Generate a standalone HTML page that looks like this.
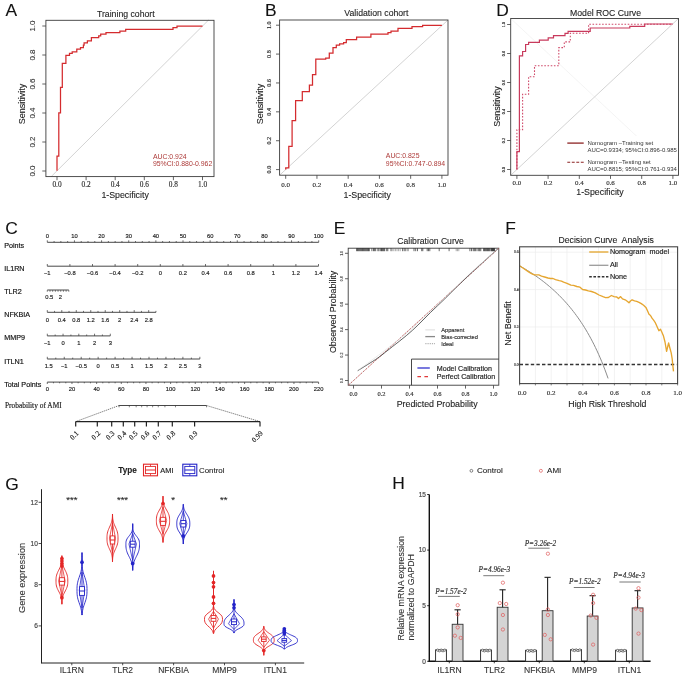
<!DOCTYPE html>
<html><head><meta charset="utf-8"><title>Figure</title>
<style>html,body{margin:0;padding:0;background:#fff;}svg{display:block;filter:blur(0.3px);}</style>
</head><body>
<svg width="685" height="679" viewBox="0 0 685 679">
<rect width="685" height="679" fill="#fff"/>
<text x="5.6" y="16.3" font-size="17.4" font-family="'Liberation Sans', sans-serif" text-anchor="start" fill="#111" stroke="#111" stroke-width="0.1">A</text>
<text x="265" y="16.2" font-size="17.4" font-family="'Liberation Sans', sans-serif" text-anchor="start" fill="#111" stroke="#111" stroke-width="0.1">B</text>
<text x="496.2" y="16.2" font-size="17.4" font-family="'Liberation Sans', sans-serif" text-anchor="start" fill="#111" stroke="#111" stroke-width="0.1">D</text>
<text x="5.2" y="234.2" font-size="17.4" font-family="'Liberation Sans', sans-serif" text-anchor="start" fill="#111" stroke="#111" stroke-width="0.1">C</text>
<text x="333.8" y="233.9" font-size="17.4" font-family="'Liberation Sans', sans-serif" text-anchor="start" fill="#111" stroke="#111" stroke-width="0.1">E</text>
<text x="505.3" y="233.6" font-size="17.4" font-family="'Liberation Sans', sans-serif" text-anchor="start" fill="#111" stroke="#111" stroke-width="0.1">F</text>
<text x="5.2" y="490" font-size="17.4" font-family="'Liberation Sans', sans-serif" text-anchor="start" fill="#111" stroke="#111" stroke-width="0.1">G</text>
<text x="392.2" y="488.7" font-size="17.4" font-family="'Liberation Sans', sans-serif" text-anchor="start" fill="#111" stroke="#111" stroke-width="0.1">H</text>
<line x1="51.2" y1="176.6" x2="208.6" y2="20" stroke="#c8c8c8" stroke-width="0.8"/>
<rect x="45.9" y="20.3" width="168.1" height="156.3" stroke="#3c3c3c" stroke-width="0.9" fill="none"/>
<line x1="57" y1="176.6" x2="57" y2="180.2" stroke="#3c3c3c" stroke-width="0.8"/>
<text x="57" y="187.08" font-size="7.3" font-family="'Liberation Serif', serif" text-anchor="middle" fill="#333" stroke="#333" stroke-width="0.16">0.0</text>
<line x1="45.9" y1="171" x2="42.3" y2="171" stroke="#3c3c3c" stroke-width="0.8"/>
<text x="34.92" y="171" font-size="8.0" font-family="'Liberation Sans', sans-serif" text-anchor="middle" fill="#333" stroke="#333" stroke-width="0.1" transform="rotate(-90 34.92 171)">0.0</text>
<line x1="86.1" y1="176.6" x2="86.1" y2="180.2" stroke="#3c3c3c" stroke-width="0.8"/>
<text x="86.1" y="187.08" font-size="7.3" font-family="'Liberation Serif', serif" text-anchor="middle" fill="#333" stroke="#333" stroke-width="0.16">0.2</text>
<line x1="45.9" y1="142" x2="42.3" y2="142" stroke="#3c3c3c" stroke-width="0.8"/>
<text x="34.92" y="142" font-size="8.0" font-family="'Liberation Sans', sans-serif" text-anchor="middle" fill="#333" stroke="#333" stroke-width="0.1" transform="rotate(-90 34.92 142)">0.2</text>
<line x1="115.2" y1="176.6" x2="115.2" y2="180.2" stroke="#3c3c3c" stroke-width="0.8"/>
<text x="115.2" y="187.08" font-size="7.3" font-family="'Liberation Serif', serif" text-anchor="middle" fill="#333" stroke="#333" stroke-width="0.16">0.4</text>
<line x1="45.9" y1="113" x2="42.3" y2="113" stroke="#3c3c3c" stroke-width="0.8"/>
<text x="34.92" y="113" font-size="8.0" font-family="'Liberation Sans', sans-serif" text-anchor="middle" fill="#333" stroke="#333" stroke-width="0.1" transform="rotate(-90 34.92 113)">0.4</text>
<line x1="144.3" y1="176.6" x2="144.3" y2="180.2" stroke="#3c3c3c" stroke-width="0.8"/>
<text x="144.3" y="187.08" font-size="7.3" font-family="'Liberation Serif', serif" text-anchor="middle" fill="#333" stroke="#333" stroke-width="0.16">0.6</text>
<line x1="45.9" y1="84" x2="42.3" y2="84" stroke="#3c3c3c" stroke-width="0.8"/>
<text x="34.92" y="84" font-size="8.0" font-family="'Liberation Sans', sans-serif" text-anchor="middle" fill="#333" stroke="#333" stroke-width="0.1" transform="rotate(-90 34.92 84)">0.6</text>
<line x1="173.4" y1="176.6" x2="173.4" y2="180.2" stroke="#3c3c3c" stroke-width="0.8"/>
<text x="173.4" y="187.08" font-size="7.3" font-family="'Liberation Serif', serif" text-anchor="middle" fill="#333" stroke="#333" stroke-width="0.16">0.8</text>
<line x1="45.9" y1="55" x2="42.3" y2="55" stroke="#3c3c3c" stroke-width="0.8"/>
<text x="34.92" y="55" font-size="8.0" font-family="'Liberation Sans', sans-serif" text-anchor="middle" fill="#333" stroke="#333" stroke-width="0.1" transform="rotate(-90 34.92 55)">0.8</text>
<line x1="202.5" y1="176.6" x2="202.5" y2="180.2" stroke="#3c3c3c" stroke-width="0.8"/>
<text x="202.5" y="187.08" font-size="7.3" font-family="'Liberation Serif', serif" text-anchor="middle" fill="#333" stroke="#333" stroke-width="0.16">1.0</text>
<line x1="45.9" y1="26" x2="42.3" y2="26" stroke="#3c3c3c" stroke-width="0.8"/>
<text x="34.92" y="26" font-size="8.0" font-family="'Liberation Sans', sans-serif" text-anchor="middle" fill="#333" stroke="#333" stroke-width="0.1" transform="rotate(-90 34.92 26)">1.0</text>
<text x="125.8" y="16.64" font-size="8.7" font-family="'Liberation Sans', sans-serif" text-anchor="middle" fill="#222" stroke="#222" stroke-width="0.1">Training cohort</text>
<text x="25.32" y="104" font-size="9" font-family="'Liberation Sans', sans-serif" text-anchor="middle" fill="#222" stroke="#222" stroke-width="0.1" transform="rotate(-90 25.32 104)">Sensitivity</text>
<text x="125.1" y="197.59" font-size="8.8" font-family="'Liberation Sans', sans-serif" text-anchor="middle" fill="#222" stroke="#222" stroke-width="0.1">1-Specificity</text>
<path d="M57,170.8 V156.2 H58.8 V112.9 H60.5 V87.3 H62.3 V63.3 H65.9 V55.4 H69.5 V53.4 H72.2 V51.9 H76.8 V49.2 H80.5 V47.5 H83.4 V45.2 H84.1 V42.8 H87.4 V40.8 H91.4 V37.5 H98.7 V35.9 H100.7 V34.2 H106 V32.5 H119.9 V31 H125.7 V29.4 H173 V27.5 H177 V26 H202.5" stroke="#d42b2e" stroke-width="1.25" fill="none"/>
<text x="152.9" y="158.7" font-size="6.9" font-family="'Liberation Sans', sans-serif" text-anchor="start" fill="#ad3a38">AUC:0.924</text>
<text x="152.9" y="165.7" font-size="6.9" font-family="'Liberation Sans', sans-serif" text-anchor="start" fill="#ad3a38">95%CI:0.880-0.962</text>
<line x1="279.6" y1="175.2" x2="448" y2="20" stroke="#c8c8c8" stroke-width="0.8"/>
<rect x="279.6" y="20" width="168.4" height="155.2" stroke="#3c3c3c" stroke-width="0.9" fill="none"/>
<line x1="285.7" y1="175.2" x2="285.7" y2="178.8" stroke="#3c3c3c" stroke-width="0.8"/>
<text x="285.7" y="186.68" font-size="7.0" font-family="'Liberation Serif', serif" text-anchor="middle" fill="#333" stroke="#333" stroke-width="0.16">0.0</text>
<line x1="279.6" y1="169.6" x2="276" y2="169.6" stroke="#3c3c3c" stroke-width="0.8"/>
<text x="271.01" y="169.6" font-size="6.2" font-family="'Liberation Serif', serif" text-anchor="middle" fill="#333" stroke="#333" stroke-width="0.16" transform="rotate(-90 271.01 169.6)">0.0</text>
<line x1="316.94" y1="175.2" x2="316.94" y2="178.8" stroke="#3c3c3c" stroke-width="0.8"/>
<text x="316.94" y="186.68" font-size="7.0" font-family="'Liberation Serif', serif" text-anchor="middle" fill="#333" stroke="#333" stroke-width="0.16">0.2</text>
<line x1="279.6" y1="140.72" x2="276" y2="140.72" stroke="#3c3c3c" stroke-width="0.8"/>
<text x="271.01" y="140.72" font-size="6.2" font-family="'Liberation Serif', serif" text-anchor="middle" fill="#333" stroke="#333" stroke-width="0.16" transform="rotate(-90 271.01 140.72)">0.2</text>
<line x1="348.18" y1="175.2" x2="348.18" y2="178.8" stroke="#3c3c3c" stroke-width="0.8"/>
<text x="348.18" y="186.68" font-size="7.0" font-family="'Liberation Serif', serif" text-anchor="middle" fill="#333" stroke="#333" stroke-width="0.16">0.4</text>
<line x1="279.6" y1="111.84" x2="276" y2="111.84" stroke="#3c3c3c" stroke-width="0.8"/>
<text x="271.01" y="111.84" font-size="6.2" font-family="'Liberation Serif', serif" text-anchor="middle" fill="#333" stroke="#333" stroke-width="0.16" transform="rotate(-90 271.01 111.84)">0.4</text>
<line x1="379.42" y1="175.2" x2="379.42" y2="178.8" stroke="#3c3c3c" stroke-width="0.8"/>
<text x="379.42" y="186.68" font-size="7.0" font-family="'Liberation Serif', serif" text-anchor="middle" fill="#333" stroke="#333" stroke-width="0.16">0.6</text>
<line x1="279.6" y1="82.96" x2="276" y2="82.96" stroke="#3c3c3c" stroke-width="0.8"/>
<text x="271.01" y="82.96" font-size="6.2" font-family="'Liberation Serif', serif" text-anchor="middle" fill="#333" stroke="#333" stroke-width="0.16" transform="rotate(-90 271.01 82.96)">0.6</text>
<line x1="410.66" y1="175.2" x2="410.66" y2="178.8" stroke="#3c3c3c" stroke-width="0.8"/>
<text x="410.66" y="186.68" font-size="7.0" font-family="'Liberation Serif', serif" text-anchor="middle" fill="#333" stroke="#333" stroke-width="0.16">0.8</text>
<line x1="279.6" y1="54.08" x2="276" y2="54.08" stroke="#3c3c3c" stroke-width="0.8"/>
<text x="271.01" y="54.08" font-size="6.2" font-family="'Liberation Serif', serif" text-anchor="middle" fill="#333" stroke="#333" stroke-width="0.16" transform="rotate(-90 271.01 54.08)">0.8</text>
<line x1="441.9" y1="175.2" x2="441.9" y2="178.8" stroke="#3c3c3c" stroke-width="0.8"/>
<text x="441.9" y="186.68" font-size="7.0" font-family="'Liberation Serif', serif" text-anchor="middle" fill="#333" stroke="#333" stroke-width="0.16">1.0</text>
<line x1="279.6" y1="25.2" x2="276" y2="25.2" stroke="#3c3c3c" stroke-width="0.8"/>
<text x="271.01" y="25.2" font-size="6.2" font-family="'Liberation Serif', serif" text-anchor="middle" fill="#333" stroke="#333" stroke-width="0.16" transform="rotate(-90 271.01 25.2)">1.0</text>
<text x="376.4" y="15.94" font-size="8.7" font-family="'Liberation Sans', sans-serif" text-anchor="middle" fill="#222" stroke="#222" stroke-width="0.1">Validation cohort</text>
<text x="262.82" y="104" font-size="9" font-family="'Liberation Sans', sans-serif" text-anchor="middle" fill="#222" stroke="#222" stroke-width="0.1" transform="rotate(-90 262.82 104)">Sensitivity</text>
<text x="367.2" y="197.59" font-size="8.8" font-family="'Liberation Sans', sans-serif" text-anchor="middle" fill="#222" stroke="#222" stroke-width="0.1">1-Specificity</text>
<path d="M285.7,169.6 V167.8 H288.8 V146.4 H292.1 V120.5 H295.6 V100.6 H302.3 V91.6 H309.4 V85 H312.5 V74.6 H315.8 V59.1 H325.7 V58.2 H329.3 V53.1 H333 V47.6 H336.3 V45.2 H339.6 V43.9 H343.6 V42.5 H346.3 V39.6 H356.6 V37 H370.9 V34.2 H388 V32.5 H391 V31.2 H398 V28.4 H412 V26.6 H422.6 V25.4 H441.9" stroke="#d42b2e" stroke-width="1.25" fill="none"/>
<text x="385.8" y="158.4" font-size="6.9" font-family="'Liberation Sans', sans-serif" text-anchor="start" fill="#ad3a38">AUC:0.825</text>
<text x="385.8" y="165.9" font-size="6.9" font-family="'Liberation Sans', sans-serif" text-anchor="start" fill="#ad3a38">95%CI:0.747-0.894</text>
<line x1="510.7" y1="18.5" x2="678.5" y2="175.3" stroke="#f1f1f1" stroke-width="0.8"/>
<rect x="562" y="136" width="116" height="39" stroke="none" stroke-width="0" fill="#fff"/>
<line x1="510.7" y1="175.3" x2="678.5" y2="18.5" stroke="#c8c8c8" stroke-width="0.8"/>
<rect x="510.7" y="18.5" width="167.8" height="156.8" stroke="#3c3c3c" stroke-width="0.9" fill="none"/>
<line x1="516.9" y1="175.3" x2="516.9" y2="178.9" stroke="#3c3c3c" stroke-width="0.8"/>
<text x="516.9" y="185.25" font-size="6.9" font-family="'Liberation Serif', serif" text-anchor="middle" fill="#333" stroke="#333" stroke-width="0.16">0.0</text>
<line x1="510.7" y1="169.5" x2="507.1" y2="169.5" stroke="#3c3c3c" stroke-width="0.8"/>
<text x="504.63" y="169.5" font-size="4.2" font-family="'Liberation Serif', serif" text-anchor="middle" fill="#333" stroke="#333" stroke-width="0.16" transform="rotate(-90 504.63 169.5)">0.0</text>
<line x1="548.1" y1="175.3" x2="548.1" y2="178.9" stroke="#3c3c3c" stroke-width="0.8"/>
<text x="548.1" y="185.25" font-size="6.9" font-family="'Liberation Serif', serif" text-anchor="middle" fill="#333" stroke="#333" stroke-width="0.16">0.2</text>
<line x1="510.7" y1="140.5" x2="507.1" y2="140.5" stroke="#3c3c3c" stroke-width="0.8"/>
<text x="504.63" y="140.5" font-size="4.2" font-family="'Liberation Serif', serif" text-anchor="middle" fill="#333" stroke="#333" stroke-width="0.16" transform="rotate(-90 504.63 140.5)">0.2</text>
<line x1="579.3" y1="175.3" x2="579.3" y2="178.9" stroke="#3c3c3c" stroke-width="0.8"/>
<text x="579.3" y="185.25" font-size="6.9" font-family="'Liberation Serif', serif" text-anchor="middle" fill="#333" stroke="#333" stroke-width="0.16">0.4</text>
<line x1="510.7" y1="111.5" x2="507.1" y2="111.5" stroke="#3c3c3c" stroke-width="0.8"/>
<text x="504.63" y="111.5" font-size="4.2" font-family="'Liberation Serif', serif" text-anchor="middle" fill="#333" stroke="#333" stroke-width="0.16" transform="rotate(-90 504.63 111.5)">0.4</text>
<line x1="610.5" y1="175.3" x2="610.5" y2="178.9" stroke="#3c3c3c" stroke-width="0.8"/>
<text x="610.5" y="185.25" font-size="6.9" font-family="'Liberation Serif', serif" text-anchor="middle" fill="#333" stroke="#333" stroke-width="0.16">0.6</text>
<line x1="510.7" y1="82.5" x2="507.1" y2="82.5" stroke="#3c3c3c" stroke-width="0.8"/>
<text x="504.63" y="82.5" font-size="4.2" font-family="'Liberation Serif', serif" text-anchor="middle" fill="#333" stroke="#333" stroke-width="0.16" transform="rotate(-90 504.63 82.5)">0.6</text>
<line x1="641.7" y1="175.3" x2="641.7" y2="178.9" stroke="#3c3c3c" stroke-width="0.8"/>
<text x="641.7" y="185.25" font-size="6.9" font-family="'Liberation Serif', serif" text-anchor="middle" fill="#333" stroke="#333" stroke-width="0.16">0.8</text>
<line x1="510.7" y1="53.5" x2="507.1" y2="53.5" stroke="#3c3c3c" stroke-width="0.8"/>
<text x="504.63" y="53.5" font-size="4.2" font-family="'Liberation Serif', serif" text-anchor="middle" fill="#333" stroke="#333" stroke-width="0.16" transform="rotate(-90 504.63 53.5)">0.8</text>
<line x1="672.9" y1="175.3" x2="672.9" y2="178.9" stroke="#3c3c3c" stroke-width="0.8"/>
<text x="672.9" y="185.25" font-size="6.9" font-family="'Liberation Serif', serif" text-anchor="middle" fill="#333" stroke="#333" stroke-width="0.16">1.0</text>
<line x1="510.7" y1="24.5" x2="507.1" y2="24.5" stroke="#3c3c3c" stroke-width="0.8"/>
<text x="504.63" y="24.5" font-size="4.2" font-family="'Liberation Serif', serif" text-anchor="middle" fill="#333" stroke="#333" stroke-width="0.16" transform="rotate(-90 504.63 24.5)">1.0</text>
<text x="605.5" y="15.94" font-size="8.7" font-family="'Liberation Sans', sans-serif" text-anchor="middle" fill="#222" stroke="#222" stroke-width="0.1">Model ROC Curve</text>
<text x="499.52" y="106.6" font-size="9" font-family="'Liberation Sans', sans-serif" text-anchor="middle" fill="#222" stroke="#222" stroke-width="0.1" transform="rotate(-90 499.52 106.6)">Sensitivity</text>
<text x="600" y="194.89" font-size="8.8" font-family="'Liberation Sans', sans-serif" text-anchor="middle" fill="#222" stroke="#222" stroke-width="0.1">1-Specificity</text>
<path d="M516.9,169.5 V129.7 H522.6 V94.2 H528.6 V76.7 H534.5 V65.7 H558.8 V47.6 H564.3 V41.9 H570.3 V33.3 H588.6 V24.3 H672.7" stroke="#cf4a6a" stroke-width="1.1" fill="none" stroke-dasharray="1.6 1.6"/>
<path d="M516.9,169.5 V151.6 H519.4 V55.8 H522.6 V51.5 H525.6 V44.5 H528.6 V42.3 H539.4 V40.1 H548.2 V37.9 H553.5 V35.6 H565 V33.3 H568.1 V31.3 H590.2 V28 H629.8 V26.3 H644.7 V24 H672.7" stroke="#c83a5c" stroke-width="1.2" fill="none"/>
<line x1="567.3" y1="143.1" x2="583.7" y2="143.1" stroke="#8c2323" stroke-width="1.3"/>
<line x1="567.3" y1="162.3" x2="583.7" y2="162.3" stroke="#8c2323" stroke-width="1.1" stroke-dasharray="2.9 1.6"/>
<text x="587.4" y="145" font-size="6.0" font-family="'Liberation Sans', sans-serif" text-anchor="start" fill="#333">Nomogram &#8211;Training set</text>
<text x="587.4" y="152.2" font-size="6.0" font-family="'Liberation Sans', sans-serif" text-anchor="start" fill="#333">AUC=0.9334; 95%CI:0.896-0.985</text>
<text x="587.4" y="163.5" font-size="6.0" font-family="'Liberation Sans', sans-serif" text-anchor="start" fill="#333">Nomogram &#8211;Testing set</text>
<text x="587.4" y="170.8" font-size="6.0" font-family="'Liberation Sans', sans-serif" text-anchor="start" fill="#333">AUC=0.8815; 95%CI:0.761-0.934</text>
<text x="4.2" y="247.69" font-size="7.2" font-family="'Liberation Sans', sans-serif" text-anchor="start" fill="#111" stroke="#111" stroke-width="0.16">Points</text>
<line x1="47.3" y1="242.3" x2="318.7" y2="242.3" stroke="#333" stroke-width="0.9"/>
<line x1="47.3" y1="242.3" x2="47.3" y2="240.3" stroke="#333" stroke-width="0.7"/>
<line x1="54.08" y1="242.3" x2="54.08" y2="241" stroke="#333" stroke-width="0.7"/>
<line x1="60.87" y1="242.3" x2="60.87" y2="241" stroke="#333" stroke-width="0.7"/>
<line x1="67.66" y1="242.3" x2="67.66" y2="241" stroke="#333" stroke-width="0.7"/>
<line x1="74.44" y1="242.3" x2="74.44" y2="240.3" stroke="#333" stroke-width="0.7"/>
<line x1="81.22" y1="242.3" x2="81.22" y2="241" stroke="#333" stroke-width="0.7"/>
<line x1="88.01" y1="242.3" x2="88.01" y2="241" stroke="#333" stroke-width="0.7"/>
<line x1="94.79" y1="242.3" x2="94.79" y2="241" stroke="#333" stroke-width="0.7"/>
<line x1="101.58" y1="242.3" x2="101.58" y2="240.3" stroke="#333" stroke-width="0.7"/>
<line x1="108.36" y1="242.3" x2="108.36" y2="241" stroke="#333" stroke-width="0.7"/>
<line x1="115.15" y1="242.3" x2="115.15" y2="241" stroke="#333" stroke-width="0.7"/>
<line x1="121.94" y1="242.3" x2="121.94" y2="241" stroke="#333" stroke-width="0.7"/>
<line x1="128.72" y1="242.3" x2="128.72" y2="240.3" stroke="#333" stroke-width="0.7"/>
<line x1="135.5" y1="242.3" x2="135.5" y2="241" stroke="#333" stroke-width="0.7"/>
<line x1="142.29" y1="242.3" x2="142.29" y2="241" stroke="#333" stroke-width="0.7"/>
<line x1="149.07" y1="242.3" x2="149.07" y2="241" stroke="#333" stroke-width="0.7"/>
<line x1="155.86" y1="242.3" x2="155.86" y2="240.3" stroke="#333" stroke-width="0.7"/>
<line x1="162.64" y1="242.3" x2="162.64" y2="241" stroke="#333" stroke-width="0.7"/>
<line x1="169.43" y1="242.3" x2="169.43" y2="241" stroke="#333" stroke-width="0.7"/>
<line x1="176.21" y1="242.3" x2="176.21" y2="241" stroke="#333" stroke-width="0.7"/>
<line x1="183" y1="242.3" x2="183" y2="240.3" stroke="#333" stroke-width="0.7"/>
<line x1="189.78" y1="242.3" x2="189.78" y2="241" stroke="#333" stroke-width="0.7"/>
<line x1="196.57" y1="242.3" x2="196.57" y2="241" stroke="#333" stroke-width="0.7"/>
<line x1="203.36" y1="242.3" x2="203.36" y2="241" stroke="#333" stroke-width="0.7"/>
<line x1="210.14" y1="242.3" x2="210.14" y2="240.3" stroke="#333" stroke-width="0.7"/>
<line x1="216.93" y1="242.3" x2="216.93" y2="241" stroke="#333" stroke-width="0.7"/>
<line x1="223.71" y1="242.3" x2="223.71" y2="241" stroke="#333" stroke-width="0.7"/>
<line x1="230.5" y1="242.3" x2="230.5" y2="241" stroke="#333" stroke-width="0.7"/>
<line x1="237.28" y1="242.3" x2="237.28" y2="240.3" stroke="#333" stroke-width="0.7"/>
<line x1="244.06" y1="242.3" x2="244.06" y2="241" stroke="#333" stroke-width="0.7"/>
<line x1="250.85" y1="242.3" x2="250.85" y2="241" stroke="#333" stroke-width="0.7"/>
<line x1="257.63" y1="242.3" x2="257.63" y2="241" stroke="#333" stroke-width="0.7"/>
<line x1="264.42" y1="242.3" x2="264.42" y2="240.3" stroke="#333" stroke-width="0.7"/>
<line x1="271.2" y1="242.3" x2="271.2" y2="241" stroke="#333" stroke-width="0.7"/>
<line x1="277.99" y1="242.3" x2="277.99" y2="241" stroke="#333" stroke-width="0.7"/>
<line x1="284.77" y1="242.3" x2="284.77" y2="241" stroke="#333" stroke-width="0.7"/>
<line x1="291.56" y1="242.3" x2="291.56" y2="240.3" stroke="#333" stroke-width="0.7"/>
<line x1="298.34" y1="242.3" x2="298.34" y2="241" stroke="#333" stroke-width="0.7"/>
<line x1="305.13" y1="242.3" x2="305.13" y2="241" stroke="#333" stroke-width="0.7"/>
<line x1="311.92" y1="242.3" x2="311.92" y2="241" stroke="#333" stroke-width="0.7"/>
<line x1="318.7" y1="242.3" x2="318.7" y2="240.3" stroke="#333" stroke-width="0.7"/>
<text x="47.3" y="237.79" font-size="5.8" font-family="'Liberation Sans', sans-serif" text-anchor="middle" fill="#222" stroke="#222" stroke-width="0.16">0</text>
<text x="74.44" y="237.79" font-size="5.8" font-family="'Liberation Sans', sans-serif" text-anchor="middle" fill="#222" stroke="#222" stroke-width="0.16">10</text>
<text x="101.58" y="237.79" font-size="5.8" font-family="'Liberation Sans', sans-serif" text-anchor="middle" fill="#222" stroke="#222" stroke-width="0.16">20</text>
<text x="128.72" y="237.79" font-size="5.8" font-family="'Liberation Sans', sans-serif" text-anchor="middle" fill="#222" stroke="#222" stroke-width="0.16">30</text>
<text x="155.86" y="237.79" font-size="5.8" font-family="'Liberation Sans', sans-serif" text-anchor="middle" fill="#222" stroke="#222" stroke-width="0.16">40</text>
<text x="183" y="237.79" font-size="5.8" font-family="'Liberation Sans', sans-serif" text-anchor="middle" fill="#222" stroke="#222" stroke-width="0.16">50</text>
<text x="210.14" y="237.79" font-size="5.8" font-family="'Liberation Sans', sans-serif" text-anchor="middle" fill="#222" stroke="#222" stroke-width="0.16">60</text>
<text x="237.28" y="237.79" font-size="5.8" font-family="'Liberation Sans', sans-serif" text-anchor="middle" fill="#222" stroke="#222" stroke-width="0.16">70</text>
<text x="264.42" y="237.79" font-size="5.8" font-family="'Liberation Sans', sans-serif" text-anchor="middle" fill="#222" stroke="#222" stroke-width="0.16">80</text>
<text x="291.56" y="237.79" font-size="5.8" font-family="'Liberation Sans', sans-serif" text-anchor="middle" fill="#222" stroke="#222" stroke-width="0.16">90</text>
<text x="318.7" y="237.79" font-size="5.8" font-family="'Liberation Sans', sans-serif" text-anchor="middle" fill="#222" stroke="#222" stroke-width="0.16">100</text>
<text x="4.2" y="270.99" font-size="7.2" font-family="'Liberation Sans', sans-serif" text-anchor="start" fill="#111" stroke="#111" stroke-width="0.16">IL1RN</text>
<line x1="47.3" y1="266.2" x2="318.5" y2="266.2" stroke="#333" stroke-width="0.9"/>
<line x1="47.3" y1="266.2" x2="47.3" y2="264" stroke="#333" stroke-width="0.7"/>
<line x1="69.9" y1="266.2" x2="69.9" y2="264" stroke="#333" stroke-width="0.7"/>
<line x1="92.5" y1="266.2" x2="92.5" y2="264" stroke="#333" stroke-width="0.7"/>
<line x1="115.1" y1="266.2" x2="115.1" y2="264" stroke="#333" stroke-width="0.7"/>
<line x1="137.7" y1="266.2" x2="137.7" y2="264" stroke="#333" stroke-width="0.7"/>
<line x1="160.3" y1="266.2" x2="160.3" y2="264" stroke="#333" stroke-width="0.7"/>
<line x1="182.9" y1="266.2" x2="182.9" y2="264" stroke="#333" stroke-width="0.7"/>
<line x1="205.5" y1="266.2" x2="205.5" y2="264" stroke="#333" stroke-width="0.7"/>
<line x1="228.1" y1="266.2" x2="228.1" y2="264" stroke="#333" stroke-width="0.7"/>
<line x1="250.7" y1="266.2" x2="250.7" y2="264" stroke="#333" stroke-width="0.7"/>
<line x1="273.3" y1="266.2" x2="273.3" y2="264" stroke="#333" stroke-width="0.7"/>
<line x1="295.9" y1="266.2" x2="295.9" y2="264" stroke="#333" stroke-width="0.7"/>
<line x1="318.5" y1="266.2" x2="318.5" y2="264" stroke="#333" stroke-width="0.7"/>
<text x="47.3" y="275.39" font-size="5.8" font-family="'Liberation Sans', sans-serif" text-anchor="middle" fill="#222" stroke="#222" stroke-width="0.16">&#8722;1</text>
<text x="69.9" y="275.39" font-size="5.8" font-family="'Liberation Sans', sans-serif" text-anchor="middle" fill="#222" stroke="#222" stroke-width="0.16">&#8722;0.8</text>
<text x="92.5" y="275.39" font-size="5.8" font-family="'Liberation Sans', sans-serif" text-anchor="middle" fill="#222" stroke="#222" stroke-width="0.16">&#8722;0.6</text>
<text x="115.1" y="275.39" font-size="5.8" font-family="'Liberation Sans', sans-serif" text-anchor="middle" fill="#222" stroke="#222" stroke-width="0.16">&#8722;0.4</text>
<text x="137.7" y="275.39" font-size="5.8" font-family="'Liberation Sans', sans-serif" text-anchor="middle" fill="#222" stroke="#222" stroke-width="0.16">&#8722;0.2</text>
<text x="160.3" y="275.39" font-size="5.8" font-family="'Liberation Sans', sans-serif" text-anchor="middle" fill="#222" stroke="#222" stroke-width="0.16">0</text>
<text x="182.9" y="275.39" font-size="5.8" font-family="'Liberation Sans', sans-serif" text-anchor="middle" fill="#222" stroke="#222" stroke-width="0.16">0.2</text>
<text x="205.5" y="275.39" font-size="5.8" font-family="'Liberation Sans', sans-serif" text-anchor="middle" fill="#222" stroke="#222" stroke-width="0.16">0.4</text>
<text x="228.1" y="275.39" font-size="5.8" font-family="'Liberation Sans', sans-serif" text-anchor="middle" fill="#222" stroke="#222" stroke-width="0.16">0.6</text>
<text x="250.7" y="275.39" font-size="5.8" font-family="'Liberation Sans', sans-serif" text-anchor="middle" fill="#222" stroke="#222" stroke-width="0.16">0.8</text>
<text x="273.3" y="275.39" font-size="5.8" font-family="'Liberation Sans', sans-serif" text-anchor="middle" fill="#222" stroke="#222" stroke-width="0.16">1</text>
<text x="295.9" y="275.39" font-size="5.8" font-family="'Liberation Sans', sans-serif" text-anchor="middle" fill="#222" stroke="#222" stroke-width="0.16">1.2</text>
<text x="318.5" y="275.39" font-size="5.8" font-family="'Liberation Sans', sans-serif" text-anchor="middle" fill="#222" stroke="#222" stroke-width="0.16">1.4</text>
<text x="4.2" y="294.19" font-size="7.2" font-family="'Liberation Sans', sans-serif" text-anchor="start" fill="#111" stroke="#111" stroke-width="0.16">TLR2</text>
<line x1="47.3" y1="290" x2="68.8" y2="290" stroke="#333" stroke-width="0.9"/>
<line x1="47.3" y1="290" x2="47.3" y2="291.8" stroke="#333" stroke-width="0.6"/>
<line x1="49.99" y1="290" x2="49.99" y2="291.8" stroke="#333" stroke-width="0.6"/>
<line x1="52.67" y1="290" x2="52.67" y2="291.8" stroke="#333" stroke-width="0.6"/>
<line x1="55.36" y1="290" x2="55.36" y2="291.8" stroke="#333" stroke-width="0.6"/>
<line x1="58.05" y1="290" x2="58.05" y2="291.8" stroke="#333" stroke-width="0.6"/>
<line x1="60.74" y1="290" x2="60.74" y2="291.8" stroke="#333" stroke-width="0.6"/>
<line x1="63.42" y1="290" x2="63.42" y2="291.8" stroke="#333" stroke-width="0.6"/>
<line x1="66.11" y1="290" x2="66.11" y2="291.8" stroke="#333" stroke-width="0.6"/>
<line x1="68.8" y1="290" x2="68.8" y2="291.8" stroke="#333" stroke-width="0.6"/>
<text x="49.2" y="298.69" font-size="5.8" font-family="'Liberation Sans', sans-serif" text-anchor="middle" fill="#222" stroke="#222" stroke-width="0.16">0.5</text>
<text x="60.4" y="298.69" font-size="5.8" font-family="'Liberation Sans', sans-serif" text-anchor="middle" fill="#222" stroke="#222" stroke-width="0.16">2</text>
<text x="4.2" y="316.99" font-size="7.2" font-family="'Liberation Sans', sans-serif" text-anchor="start" fill="#111" stroke="#111" stroke-width="0.16">NFKBIA</text>
<line x1="47.3" y1="312.3" x2="155.94" y2="312.3" stroke="#333" stroke-width="0.9"/>
<line x1="47.3" y1="312.3" x2="47.3" y2="310.1" stroke="#333" stroke-width="0.7"/>
<line x1="54.54" y1="312.3" x2="54.54" y2="310.9" stroke="#333" stroke-width="0.7"/>
<line x1="61.79" y1="312.3" x2="61.79" y2="310.1" stroke="#333" stroke-width="0.7"/>
<line x1="69.03" y1="312.3" x2="69.03" y2="310.9" stroke="#333" stroke-width="0.7"/>
<line x1="76.27" y1="312.3" x2="76.27" y2="310.1" stroke="#333" stroke-width="0.7"/>
<line x1="83.51" y1="312.3" x2="83.51" y2="310.9" stroke="#333" stroke-width="0.7"/>
<line x1="90.76" y1="312.3" x2="90.76" y2="310.1" stroke="#333" stroke-width="0.7"/>
<line x1="98" y1="312.3" x2="98" y2="310.9" stroke="#333" stroke-width="0.7"/>
<line x1="105.24" y1="312.3" x2="105.24" y2="310.1" stroke="#333" stroke-width="0.7"/>
<line x1="112.49" y1="312.3" x2="112.49" y2="310.9" stroke="#333" stroke-width="0.7"/>
<line x1="119.73" y1="312.3" x2="119.73" y2="310.1" stroke="#333" stroke-width="0.7"/>
<line x1="126.97" y1="312.3" x2="126.97" y2="310.9" stroke="#333" stroke-width="0.7"/>
<line x1="134.21" y1="312.3" x2="134.21" y2="310.1" stroke="#333" stroke-width="0.7"/>
<line x1="141.46" y1="312.3" x2="141.46" y2="310.9" stroke="#333" stroke-width="0.7"/>
<line x1="148.7" y1="312.3" x2="148.7" y2="310.1" stroke="#333" stroke-width="0.7"/>
<line x1="155.94" y1="312.3" x2="155.94" y2="310.9" stroke="#333" stroke-width="0.7"/>
<text x="47.3" y="321.69" font-size="5.8" font-family="'Liberation Sans', sans-serif" text-anchor="middle" fill="#222" stroke="#222" stroke-width="0.16">0</text>
<text x="61.79" y="321.69" font-size="5.8" font-family="'Liberation Sans', sans-serif" text-anchor="middle" fill="#222" stroke="#222" stroke-width="0.16">0.4</text>
<text x="76.27" y="321.69" font-size="5.8" font-family="'Liberation Sans', sans-serif" text-anchor="middle" fill="#222" stroke="#222" stroke-width="0.16">0.8</text>
<text x="90.76" y="321.69" font-size="5.8" font-family="'Liberation Sans', sans-serif" text-anchor="middle" fill="#222" stroke="#222" stroke-width="0.16">1.2</text>
<text x="105.24" y="321.69" font-size="5.8" font-family="'Liberation Sans', sans-serif" text-anchor="middle" fill="#222" stroke="#222" stroke-width="0.16">1.6</text>
<text x="119.73" y="321.69" font-size="5.8" font-family="'Liberation Sans', sans-serif" text-anchor="middle" fill="#222" stroke="#222" stroke-width="0.16">2</text>
<text x="134.21" y="321.69" font-size="5.8" font-family="'Liberation Sans', sans-serif" text-anchor="middle" fill="#222" stroke="#222" stroke-width="0.16">2.4</text>
<text x="148.7" y="321.69" font-size="5.8" font-family="'Liberation Sans', sans-serif" text-anchor="middle" fill="#222" stroke="#222" stroke-width="0.16">2.8</text>
<text x="4.2" y="340.29" font-size="7.2" font-family="'Liberation Sans', sans-serif" text-anchor="start" fill="#111" stroke="#111" stroke-width="0.16">MMP9</text>
<line x1="47.3" y1="335.9" x2="110.3" y2="335.9" stroke="#333" stroke-width="0.9"/>
<line x1="47.3" y1="335.9" x2="47.3" y2="333.7" stroke="#333" stroke-width="0.7"/>
<line x1="55.17" y1="335.9" x2="55.17" y2="334.5" stroke="#333" stroke-width="0.7"/>
<line x1="63.05" y1="335.9" x2="63.05" y2="333.7" stroke="#333" stroke-width="0.7"/>
<line x1="70.92" y1="335.9" x2="70.92" y2="334.5" stroke="#333" stroke-width="0.7"/>
<line x1="78.8" y1="335.9" x2="78.8" y2="333.7" stroke="#333" stroke-width="0.7"/>
<line x1="86.67" y1="335.9" x2="86.67" y2="334.5" stroke="#333" stroke-width="0.7"/>
<line x1="94.55" y1="335.9" x2="94.55" y2="333.7" stroke="#333" stroke-width="0.7"/>
<line x1="102.42" y1="335.9" x2="102.42" y2="334.5" stroke="#333" stroke-width="0.7"/>
<line x1="110.3" y1="335.9" x2="110.3" y2="333.7" stroke="#333" stroke-width="0.7"/>
<text x="47.3" y="344.69" font-size="5.8" font-family="'Liberation Sans', sans-serif" text-anchor="middle" fill="#222" stroke="#222" stroke-width="0.16">&#8722;1</text>
<text x="63.05" y="344.69" font-size="5.8" font-family="'Liberation Sans', sans-serif" text-anchor="middle" fill="#222" stroke="#222" stroke-width="0.16">0</text>
<text x="78.8" y="344.69" font-size="5.8" font-family="'Liberation Sans', sans-serif" text-anchor="middle" fill="#222" stroke="#222" stroke-width="0.16">1</text>
<text x="94.55" y="344.69" font-size="5.8" font-family="'Liberation Sans', sans-serif" text-anchor="middle" fill="#222" stroke="#222" stroke-width="0.16">2</text>
<text x="110.3" y="344.69" font-size="5.8" font-family="'Liberation Sans', sans-serif" text-anchor="middle" fill="#222" stroke="#222" stroke-width="0.16">3</text>
<text x="4.2" y="363.89" font-size="7.2" font-family="'Liberation Sans', sans-serif" text-anchor="start" fill="#111" stroke="#111" stroke-width="0.16">ITLN1</text>
<line x1="47.3" y1="359" x2="199.85" y2="359" stroke="#333" stroke-width="0.9"/>
<line x1="47.3" y1="359" x2="47.3" y2="356.8" stroke="#333" stroke-width="0.7"/>
<line x1="55.77" y1="359" x2="55.77" y2="357.6" stroke="#333" stroke-width="0.7"/>
<line x1="64.25" y1="359" x2="64.25" y2="356.8" stroke="#333" stroke-width="0.7"/>
<line x1="72.72" y1="359" x2="72.72" y2="357.6" stroke="#333" stroke-width="0.7"/>
<line x1="81.2" y1="359" x2="81.2" y2="356.8" stroke="#333" stroke-width="0.7"/>
<line x1="89.67" y1="359" x2="89.67" y2="357.6" stroke="#333" stroke-width="0.7"/>
<line x1="98.15" y1="359" x2="98.15" y2="356.8" stroke="#333" stroke-width="0.7"/>
<line x1="106.62" y1="359" x2="106.62" y2="357.6" stroke="#333" stroke-width="0.7"/>
<line x1="115.1" y1="359" x2="115.1" y2="356.8" stroke="#333" stroke-width="0.7"/>
<line x1="123.57" y1="359" x2="123.57" y2="357.6" stroke="#333" stroke-width="0.7"/>
<line x1="132.05" y1="359" x2="132.05" y2="356.8" stroke="#333" stroke-width="0.7"/>
<line x1="140.52" y1="359" x2="140.52" y2="357.6" stroke="#333" stroke-width="0.7"/>
<line x1="149" y1="359" x2="149" y2="356.8" stroke="#333" stroke-width="0.7"/>
<line x1="157.47" y1="359" x2="157.47" y2="357.6" stroke="#333" stroke-width="0.7"/>
<line x1="165.95" y1="359" x2="165.95" y2="356.8" stroke="#333" stroke-width="0.7"/>
<line x1="174.43" y1="359" x2="174.43" y2="357.6" stroke="#333" stroke-width="0.7"/>
<line x1="182.9" y1="359" x2="182.9" y2="356.8" stroke="#333" stroke-width="0.7"/>
<line x1="191.38" y1="359" x2="191.38" y2="357.6" stroke="#333" stroke-width="0.7"/>
<line x1="199.85" y1="359" x2="199.85" y2="356.8" stroke="#333" stroke-width="0.7"/>
<text x="48.8" y="368.29" font-size="5.8" font-family="'Liberation Sans', sans-serif" text-anchor="middle" fill="#222" stroke="#222" stroke-width="0.16">1.5</text>
<text x="64.25" y="368.29" font-size="5.8" font-family="'Liberation Sans', sans-serif" text-anchor="middle" fill="#222" stroke="#222" stroke-width="0.16">&#8722;1</text>
<text x="81.2" y="368.29" font-size="5.8" font-family="'Liberation Sans', sans-serif" text-anchor="middle" fill="#222" stroke="#222" stroke-width="0.16">&#8722;0.5</text>
<text x="98.15" y="368.29" font-size="5.8" font-family="'Liberation Sans', sans-serif" text-anchor="middle" fill="#222" stroke="#222" stroke-width="0.16">0</text>
<text x="115.1" y="368.29" font-size="5.8" font-family="'Liberation Sans', sans-serif" text-anchor="middle" fill="#222" stroke="#222" stroke-width="0.16">0.5</text>
<text x="132.05" y="368.29" font-size="5.8" font-family="'Liberation Sans', sans-serif" text-anchor="middle" fill="#222" stroke="#222" stroke-width="0.16">1</text>
<text x="149" y="368.29" font-size="5.8" font-family="'Liberation Sans', sans-serif" text-anchor="middle" fill="#222" stroke="#222" stroke-width="0.16">1.5</text>
<text x="165.95" y="368.29" font-size="5.8" font-family="'Liberation Sans', sans-serif" text-anchor="middle" fill="#222" stroke="#222" stroke-width="0.16">2</text>
<text x="182.9" y="368.29" font-size="5.8" font-family="'Liberation Sans', sans-serif" text-anchor="middle" fill="#222" stroke="#222" stroke-width="0.16">2.5</text>
<text x="199.85" y="368.29" font-size="5.8" font-family="'Liberation Sans', sans-serif" text-anchor="middle" fill="#222" stroke="#222" stroke-width="0.16">3</text>
<text x="4.2" y="386.69" font-size="7.2" font-family="'Liberation Sans', sans-serif" text-anchor="start" fill="#111" stroke="#111" stroke-width="0.16">Total Points</text>
<line x1="47.3" y1="382.1" x2="318.6" y2="382.1" stroke="#333" stroke-width="0.9"/>
<line x1="47.3" y1="382.1" x2="47.3" y2="384" stroke="#333" stroke-width="0.7"/>
<line x1="53.47" y1="382.1" x2="53.47" y2="383.3" stroke="#333" stroke-width="0.7"/>
<line x1="59.63" y1="382.1" x2="59.63" y2="383.3" stroke="#333" stroke-width="0.7"/>
<line x1="65.8" y1="382.1" x2="65.8" y2="383.3" stroke="#333" stroke-width="0.7"/>
<line x1="71.96" y1="382.1" x2="71.96" y2="384" stroke="#333" stroke-width="0.7"/>
<line x1="78.13" y1="382.1" x2="78.13" y2="383.3" stroke="#333" stroke-width="0.7"/>
<line x1="84.3" y1="382.1" x2="84.3" y2="383.3" stroke="#333" stroke-width="0.7"/>
<line x1="90.46" y1="382.1" x2="90.46" y2="383.3" stroke="#333" stroke-width="0.7"/>
<line x1="96.63" y1="382.1" x2="96.63" y2="384" stroke="#333" stroke-width="0.7"/>
<line x1="102.79" y1="382.1" x2="102.79" y2="383.3" stroke="#333" stroke-width="0.7"/>
<line x1="108.96" y1="382.1" x2="108.96" y2="383.3" stroke="#333" stroke-width="0.7"/>
<line x1="115.12" y1="382.1" x2="115.12" y2="383.3" stroke="#333" stroke-width="0.7"/>
<line x1="121.29" y1="382.1" x2="121.29" y2="384" stroke="#333" stroke-width="0.7"/>
<line x1="127.46" y1="382.1" x2="127.46" y2="383.3" stroke="#333" stroke-width="0.7"/>
<line x1="133.62" y1="382.1" x2="133.62" y2="383.3" stroke="#333" stroke-width="0.7"/>
<line x1="139.79" y1="382.1" x2="139.79" y2="383.3" stroke="#333" stroke-width="0.7"/>
<line x1="145.95" y1="382.1" x2="145.95" y2="384" stroke="#333" stroke-width="0.7"/>
<line x1="152.12" y1="382.1" x2="152.12" y2="383.3" stroke="#333" stroke-width="0.7"/>
<line x1="158.29" y1="382.1" x2="158.29" y2="383.3" stroke="#333" stroke-width="0.7"/>
<line x1="164.45" y1="382.1" x2="164.45" y2="383.3" stroke="#333" stroke-width="0.7"/>
<line x1="170.62" y1="382.1" x2="170.62" y2="384" stroke="#333" stroke-width="0.7"/>
<line x1="176.78" y1="382.1" x2="176.78" y2="383.3" stroke="#333" stroke-width="0.7"/>
<line x1="182.95" y1="382.1" x2="182.95" y2="383.3" stroke="#333" stroke-width="0.7"/>
<line x1="189.12" y1="382.1" x2="189.12" y2="383.3" stroke="#333" stroke-width="0.7"/>
<line x1="195.28" y1="382.1" x2="195.28" y2="384" stroke="#333" stroke-width="0.7"/>
<line x1="201.45" y1="382.1" x2="201.45" y2="383.3" stroke="#333" stroke-width="0.7"/>
<line x1="207.61" y1="382.1" x2="207.61" y2="383.3" stroke="#333" stroke-width="0.7"/>
<line x1="213.78" y1="382.1" x2="213.78" y2="383.3" stroke="#333" stroke-width="0.7"/>
<line x1="219.95" y1="382.1" x2="219.95" y2="384" stroke="#333" stroke-width="0.7"/>
<line x1="226.11" y1="382.1" x2="226.11" y2="383.3" stroke="#333" stroke-width="0.7"/>
<line x1="232.28" y1="382.1" x2="232.28" y2="383.3" stroke="#333" stroke-width="0.7"/>
<line x1="238.44" y1="382.1" x2="238.44" y2="383.3" stroke="#333" stroke-width="0.7"/>
<line x1="244.61" y1="382.1" x2="244.61" y2="384" stroke="#333" stroke-width="0.7"/>
<line x1="250.78" y1="382.1" x2="250.78" y2="383.3" stroke="#333" stroke-width="0.7"/>
<line x1="256.94" y1="382.1" x2="256.94" y2="383.3" stroke="#333" stroke-width="0.7"/>
<line x1="263.11" y1="382.1" x2="263.11" y2="383.3" stroke="#333" stroke-width="0.7"/>
<line x1="269.27" y1="382.1" x2="269.27" y2="384" stroke="#333" stroke-width="0.7"/>
<line x1="275.44" y1="382.1" x2="275.44" y2="383.3" stroke="#333" stroke-width="0.7"/>
<line x1="281.6" y1="382.1" x2="281.6" y2="383.3" stroke="#333" stroke-width="0.7"/>
<line x1="287.77" y1="382.1" x2="287.77" y2="383.3" stroke="#333" stroke-width="0.7"/>
<line x1="293.94" y1="382.1" x2="293.94" y2="384" stroke="#333" stroke-width="0.7"/>
<line x1="300.1" y1="382.1" x2="300.1" y2="383.3" stroke="#333" stroke-width="0.7"/>
<line x1="306.27" y1="382.1" x2="306.27" y2="383.3" stroke="#333" stroke-width="0.7"/>
<line x1="312.43" y1="382.1" x2="312.43" y2="383.3" stroke="#333" stroke-width="0.7"/>
<line x1="318.6" y1="382.1" x2="318.6" y2="384" stroke="#333" stroke-width="0.7"/>
<text x="47.3" y="391.49" font-size="5.8" font-family="'Liberation Sans', sans-serif" text-anchor="middle" fill="#222" stroke="#222" stroke-width="0.16">0</text>
<text x="71.96" y="391.49" font-size="5.8" font-family="'Liberation Sans', sans-serif" text-anchor="middle" fill="#222" stroke="#222" stroke-width="0.16">20</text>
<text x="96.63" y="391.49" font-size="5.8" font-family="'Liberation Sans', sans-serif" text-anchor="middle" fill="#222" stroke="#222" stroke-width="0.16">40</text>
<text x="121.29" y="391.49" font-size="5.8" font-family="'Liberation Sans', sans-serif" text-anchor="middle" fill="#222" stroke="#222" stroke-width="0.16">60</text>
<text x="145.95" y="391.49" font-size="5.8" font-family="'Liberation Sans', sans-serif" text-anchor="middle" fill="#222" stroke="#222" stroke-width="0.16">80</text>
<text x="170.62" y="391.49" font-size="5.8" font-family="'Liberation Sans', sans-serif" text-anchor="middle" fill="#222" stroke="#222" stroke-width="0.16">100</text>
<text x="195.28" y="391.49" font-size="5.8" font-family="'Liberation Sans', sans-serif" text-anchor="middle" fill="#222" stroke="#222" stroke-width="0.16">120</text>
<text x="219.95" y="391.49" font-size="5.8" font-family="'Liberation Sans', sans-serif" text-anchor="middle" fill="#222" stroke="#222" stroke-width="0.16">140</text>
<text x="244.61" y="391.49" font-size="5.8" font-family="'Liberation Sans', sans-serif" text-anchor="middle" fill="#222" stroke="#222" stroke-width="0.16">160</text>
<text x="269.27" y="391.49" font-size="5.8" font-family="'Liberation Sans', sans-serif" text-anchor="middle" fill="#222" stroke="#222" stroke-width="0.16">180</text>
<text x="293.94" y="391.49" font-size="5.8" font-family="'Liberation Sans', sans-serif" text-anchor="middle" fill="#222" stroke="#222" stroke-width="0.16">200</text>
<text x="318.6" y="391.49" font-size="5.8" font-family="'Liberation Sans', sans-serif" text-anchor="middle" fill="#222" stroke="#222" stroke-width="0.16">220</text>
<text x="5" y="408.3" font-size="7.4" font-family="'Liberation Serif', serif" text-anchor="start" fill="#222" stroke="#222" stroke-width="0.16">Probability of AMI</text>
<line x1="119.1" y1="405.5" x2="206.5" y2="405.5" stroke="#333" stroke-width="0.9"/>
<line x1="119.1" y1="405.5" x2="119.1" y2="407.3" stroke="#333" stroke-width="0.6"/>
<line x1="129.34" y1="405.5" x2="129.34" y2="407.3" stroke="#333" stroke-width="0.6"/>
<line x1="136.17" y1="405.5" x2="136.17" y2="407.3" stroke="#333" stroke-width="0.6"/>
<line x1="141.67" y1="405.5" x2="141.67" y2="407.3" stroke="#333" stroke-width="0.6"/>
<line x1="147.08" y1="405.5" x2="147.08" y2="407.3" stroke="#333" stroke-width="0.6"/>
<line x1="152.63" y1="405.5" x2="152.63" y2="407.3" stroke="#333" stroke-width="0.6"/>
<line x1="158.27" y1="405.5" x2="158.27" y2="407.3" stroke="#333" stroke-width="0.6"/>
<line x1="164.91" y1="405.5" x2="164.91" y2="407.3" stroke="#333" stroke-width="0.6"/>
<line x1="175.49" y1="405.5" x2="175.49" y2="407.3" stroke="#333" stroke-width="0.6"/>
<line x1="206.5" y1="405.5" x2="206.5" y2="407.3" stroke="#333" stroke-width="0.6"/>
<line x1="119.1" y1="405.5" x2="75.7" y2="421.6" stroke="#333" stroke-width="0.7" stroke-dasharray="1.2 0.9"/>
<line x1="206.5" y1="405.5" x2="260" y2="421.6" stroke="#333" stroke-width="0.7" stroke-dasharray="1.2 0.9"/>
<line x1="75.7" y1="421.6" x2="260" y2="421.6" stroke="#222" stroke-width="1.4"/>
<line x1="75.7" y1="421.6" x2="75.7" y2="426.6" stroke="#222" stroke-width="1.2"/>
<text x="79.1" y="433.8" font-size="7.2" font-family="'Liberation Serif', serif" text-anchor="end" fill="#222" stroke="#222" stroke-width="0.16" transform="rotate(-45 79.1 433.8)">0.1</text>
<line x1="97.3" y1="421.6" x2="97.3" y2="426.6" stroke="#222" stroke-width="1.2"/>
<text x="100.7" y="433.8" font-size="7.2" font-family="'Liberation Serif', serif" text-anchor="end" fill="#222" stroke="#222" stroke-width="0.16" transform="rotate(-45 100.7 433.8)">0.2</text>
<line x1="111.7" y1="421.6" x2="111.7" y2="426.6" stroke="#222" stroke-width="1.2"/>
<text x="115.1" y="433.8" font-size="7.2" font-family="'Liberation Serif', serif" text-anchor="end" fill="#222" stroke="#222" stroke-width="0.16" transform="rotate(-45 115.1 433.8)">0.3</text>
<line x1="123.3" y1="421.6" x2="123.3" y2="426.6" stroke="#222" stroke-width="1.2"/>
<text x="126.7" y="433.8" font-size="7.2" font-family="'Liberation Serif', serif" text-anchor="end" fill="#222" stroke="#222" stroke-width="0.16" transform="rotate(-45 126.7 433.8)">0.4</text>
<line x1="134.7" y1="421.6" x2="134.7" y2="426.6" stroke="#222" stroke-width="1.2"/>
<text x="138.1" y="433.8" font-size="7.2" font-family="'Liberation Serif', serif" text-anchor="end" fill="#222" stroke="#222" stroke-width="0.16" transform="rotate(-45 138.1 433.8)">0.5</text>
<line x1="146.4" y1="421.6" x2="146.4" y2="426.6" stroke="#222" stroke-width="1.2"/>
<text x="149.8" y="433.8" font-size="7.2" font-family="'Liberation Serif', serif" text-anchor="end" fill="#222" stroke="#222" stroke-width="0.16" transform="rotate(-45 149.8 433.8)">0.6</text>
<line x1="158.3" y1="421.6" x2="158.3" y2="426.6" stroke="#222" stroke-width="1.2"/>
<text x="161.7" y="433.8" font-size="7.2" font-family="'Liberation Serif', serif" text-anchor="end" fill="#222" stroke="#222" stroke-width="0.16" transform="rotate(-45 161.7 433.8)">0.7</text>
<line x1="172.3" y1="421.6" x2="172.3" y2="426.6" stroke="#222" stroke-width="1.2"/>
<text x="175.7" y="433.8" font-size="7.2" font-family="'Liberation Serif', serif" text-anchor="end" fill="#222" stroke="#222" stroke-width="0.16" transform="rotate(-45 175.7 433.8)">0.8</text>
<line x1="194.6" y1="421.6" x2="194.6" y2="426.6" stroke="#222" stroke-width="1.2"/>
<text x="198" y="433.8" font-size="7.2" font-family="'Liberation Serif', serif" text-anchor="end" fill="#222" stroke="#222" stroke-width="0.16" transform="rotate(-45 198 433.8)">0.9</text>
<line x1="260" y1="421.6" x2="260" y2="426.6" stroke="#222" stroke-width="1.2"/>
<text x="263.4" y="433.8" font-size="7.2" font-family="'Liberation Serif', serif" text-anchor="end" fill="#222" stroke="#222" stroke-width="0.16" transform="rotate(-45 263.4 433.8)">0.99</text>
<rect x="348.2" y="248.2" width="150.6" height="137" stroke="#3c3c3c" stroke-width="0.9" fill="none"/>
<line x1="353.5" y1="385.2" x2="353.5" y2="388.6" stroke="#3c3c3c" stroke-width="0.8"/>
<text x="353.5" y="395.51" font-size="6.5" font-family="'Liberation Serif', serif" text-anchor="middle" fill="#333" stroke="#333" stroke-width="0.16">0.0</text>
<line x1="348.2" y1="380.5" x2="345" y2="380.5" stroke="#3c3c3c" stroke-width="0.8"/>
<text x="343.09" y="380.5" font-size="3.8" font-family="'Liberation Serif', serif" text-anchor="middle" fill="#444" stroke="#444" stroke-width="0.16" transform="rotate(-90 343.09 380.5)">0.0</text>
<line x1="381.5" y1="385.2" x2="381.5" y2="388.6" stroke="#3c3c3c" stroke-width="0.8"/>
<text x="381.5" y="395.51" font-size="6.5" font-family="'Liberation Serif', serif" text-anchor="middle" fill="#333" stroke="#333" stroke-width="0.16">0.2</text>
<line x1="348.2" y1="355.06" x2="345" y2="355.06" stroke="#3c3c3c" stroke-width="0.8"/>
<text x="343.09" y="355.06" font-size="3.8" font-family="'Liberation Serif', serif" text-anchor="middle" fill="#444" stroke="#444" stroke-width="0.16" transform="rotate(-90 343.09 355.06)">0.2</text>
<line x1="409.5" y1="385.2" x2="409.5" y2="388.6" stroke="#3c3c3c" stroke-width="0.8"/>
<text x="409.5" y="395.51" font-size="6.5" font-family="'Liberation Serif', serif" text-anchor="middle" fill="#333" stroke="#333" stroke-width="0.16">0.4</text>
<line x1="348.2" y1="329.62" x2="345" y2="329.62" stroke="#3c3c3c" stroke-width="0.8"/>
<text x="343.09" y="329.62" font-size="3.8" font-family="'Liberation Serif', serif" text-anchor="middle" fill="#444" stroke="#444" stroke-width="0.16" transform="rotate(-90 343.09 329.62)">0.4</text>
<line x1="437.5" y1="385.2" x2="437.5" y2="388.6" stroke="#3c3c3c" stroke-width="0.8"/>
<text x="437.5" y="395.51" font-size="6.5" font-family="'Liberation Serif', serif" text-anchor="middle" fill="#333" stroke="#333" stroke-width="0.16">0.6</text>
<line x1="348.2" y1="304.18" x2="345" y2="304.18" stroke="#3c3c3c" stroke-width="0.8"/>
<text x="343.09" y="304.18" font-size="3.8" font-family="'Liberation Serif', serif" text-anchor="middle" fill="#444" stroke="#444" stroke-width="0.16" transform="rotate(-90 343.09 304.18)">0.6</text>
<line x1="465.5" y1="385.2" x2="465.5" y2="388.6" stroke="#3c3c3c" stroke-width="0.8"/>
<text x="465.5" y="395.51" font-size="6.5" font-family="'Liberation Serif', serif" text-anchor="middle" fill="#333" stroke="#333" stroke-width="0.16">0.8</text>
<line x1="348.2" y1="278.74" x2="345" y2="278.74" stroke="#3c3c3c" stroke-width="0.8"/>
<text x="343.09" y="278.74" font-size="3.8" font-family="'Liberation Serif', serif" text-anchor="middle" fill="#444" stroke="#444" stroke-width="0.16" transform="rotate(-90 343.09 278.74)">0.8</text>
<line x1="493.5" y1="385.2" x2="493.5" y2="388.6" stroke="#3c3c3c" stroke-width="0.8"/>
<text x="493.5" y="395.51" font-size="6.5" font-family="'Liberation Serif', serif" text-anchor="middle" fill="#333" stroke="#333" stroke-width="0.16">1.0</text>
<line x1="348.2" y1="253.3" x2="345" y2="253.3" stroke="#3c3c3c" stroke-width="0.8"/>
<text x="343.09" y="253.3" font-size="3.8" font-family="'Liberation Serif', serif" text-anchor="middle" fill="#444" stroke="#444" stroke-width="0.16" transform="rotate(-90 343.09 253.3)">1.0</text>
<text x="430.6" y="243.9" font-size="8.65" font-family="'Liberation Sans', sans-serif" text-anchor="middle" fill="#222" stroke="#222" stroke-width="0.1">Calibration Curve</text>
<text x="335.69" y="311.9" font-size="8.9" font-family="'Liberation Sans', sans-serif" text-anchor="middle" fill="#222" stroke="#222" stroke-width="0.1" transform="rotate(-90 335.69 311.9)">Observed Probability</text>
<text x="437.2" y="406.89" font-size="8.85" font-family="'Liberation Sans', sans-serif" text-anchor="middle" fill="#222" stroke="#222" stroke-width="0.1">Predicted Probability</text>
<path d="M356.6,248.3V251.2M357.45,248.3V251.2M358.3,248.3V251.2M359.15,248.3V251.2M360,248.3V251.2M360.85,248.3V251.2M361.7,248.3V251.2M362.55,248.3V251.2M363.4,248.3V251.2M364.25,248.3V251.2M365.1,248.3V251.2M365.95,248.3V251.2M366.8,248.3V251.2M367.65,248.3V251.2M368.5,248.3V251.2M369.35,248.3V251.2M371.9,248.3V251.2M373.5,248.3V251.2M374.6,248.3V251.2M375.7,248.3V251.2M377.9,248.3V251.2M379,248.3V251.2M380.7,248.3V251.2M381.5,248.3V251.2M382.3,248.3V251.2M383.1,248.3V251.2M383.9,248.3V251.2M384.7,248.3V251.2M386.7,248.3V251.2M387.8,248.3V251.2M391,248.3V251.2M402.6,248.3V251.2M404.2,248.3V251.2M405.8,248.3V251.2M408,248.3V251.2M414,248.3V251.2M415.7,248.3V251.2M417.5,248.3V251.2M421.7,248.3V251.2M422.8,248.3V251.2M427.2,248.3V251.2M428.5,248.3V251.2M429.8,248.3V251.2M439.2,248.3V251.2M449.1,248.3V251.2M469.9,248.3V251.2M471.5,248.3V251.2M473.2,248.3V251.2M474.3,248.3V251.2M475.4,248.3V251.2M477,248.3V251.2M478.7,248.3V251.2M479.7,248.3V251.2M480.8,248.3V251.2M483.6,248.3V251.2M484.4,248.3V251.2M485.2,248.3V251.2M486,248.3V251.2M486.8,248.3V251.2M487.6,248.3V251.2M488.4,248.3V251.2M489.2,248.3V251.2M490,248.3V251.2M491.2,248.3V251.2M491.75,248.3V251.2M492.3,248.3V251.2M492.85,248.3V251.2M493.4,248.3V251.2M493.95,248.3V251.2M494.5,248.3V251.2" stroke="#000" stroke-width="0.6" fill="none"/>
<path d="M392.2,248.3V251.2M393.8,248.3V251.2M395.4,248.3V251.2M397,248.3V251.2M398.6,248.3V251.2M400.2,248.3V251.2M456.2,248.3V251.2M457.5,248.3V251.2M458.8,248.3V251.2" stroke="#666" stroke-width="0.55" fill="none"/>
<line x1="348.4" y1="385.2" x2="498.8" y2="248.3" stroke="#d04040" stroke-width="0.8" stroke-dasharray="2 1.3"/>
<line x1="348.4" y1="385.2" x2="498.8" y2="248.3" stroke="#888" stroke-width="0.5" stroke-dasharray="1 1"/>
<path d="M357.7,370.71 C359.33,369.69 364,366.83 367.5,364.6 C371,362.37 374.5,360.38 378.7,357.35 C382.9,354.32 388.03,350.08 392.7,346.41 C397.37,342.74 402.5,338.88 406.7,335.34 C410.9,331.8 413.93,328.98 417.9,325.17 C421.87,321.35 426.07,316.79 430.5,312.45 C434.93,308.1 439.83,303.65 444.5,299.09 C449.17,294.53 453.83,289.66 458.5,285.1 C463.17,280.54 467.83,276.09 472.5,271.74 C477.17,267.4 482.3,262.84 486.5,259.02 C490.7,255.21 495.83,250.54 497.7,248.85" stroke="#3a3a3a" stroke-width="0.8" fill="none"/>
<path d="M357.7,370.32 C359.33,369.16 364,365.87 367.5,363.33 C371,360.78 374.5,358.24 378.7,355.06 C382.9,351.88 388.03,347.85 392.7,344.25 C397.37,340.64 402.5,336.93 406.7,333.44 C410.9,329.94 413.93,326.97 417.9,323.26 C421.87,319.55 426.07,315.42 430.5,311.18 C434.93,306.94 439.83,302.27 444.5,297.82 C449.17,293.37 453.83,288.92 458.5,284.46 C463.17,280.01 467.83,275.35 472.5,271.11 C477.17,266.87 482.3,262.73 486.5,259.02 C490.7,255.31 495.83,250.54 497.7,248.85" stroke="#dddddd" stroke-width="0.6" fill="none"/>
<line x1="425.3" y1="329.9" x2="435" y2="329.9" stroke="#dcdcdc" stroke-width="1"/>
<line x1="425.3" y1="336.6" x2="435" y2="336.6" stroke="#888" stroke-width="1.3"/>
<line x1="425.3" y1="343.7" x2="435" y2="343.7" stroke="#777" stroke-width="0.7" stroke-dasharray="1.2 1"/>
<text x="441.2" y="331.95" font-size="5.7" font-family="'Liberation Sans', sans-serif" text-anchor="start" fill="#333" stroke="#333" stroke-width="0.16">Apparent</text>
<text x="441.2" y="338.65" font-size="5.7" font-family="'Liberation Sans', sans-serif" text-anchor="start" fill="#333" stroke="#333" stroke-width="0.16">Bias-corrected</text>
<text x="441.2" y="345.75" font-size="5.7" font-family="'Liberation Sans', sans-serif" text-anchor="start" fill="#333" stroke="#333" stroke-width="0.16">Ideal</text>
<path d="M411.5,385.2 V359.1 H498.8" stroke="#333" stroke-width="0.9" fill="none"/>
<line x1="417.4" y1="368" x2="429.8" y2="368" stroke="#2020c8" stroke-width="1.2"/>
<line x1="417.4" y1="376.7" x2="429.8" y2="376.7" stroke="#e03a3a" stroke-width="1.2" stroke-dasharray="3.6 3.4"/>
<text x="436.8" y="370.56" font-size="7.1" font-family="'Liberation Sans', sans-serif" text-anchor="start" fill="#222" stroke="#222" stroke-width="0.16">Model Calibration</text>
<text x="436.8" y="379.26" font-size="7.1" font-family="'Liberation Sans', sans-serif" text-anchor="start" fill="#222" stroke="#222" stroke-width="0.16">Perfect Calibration</text>
<line x1="535.4" y1="246.8" x2="535.4" y2="383.6" stroke="#ececec" stroke-width="0.7"/>
<line x1="551.2" y1="246.8" x2="551.2" y2="383.6" stroke="#ececec" stroke-width="0.7"/>
<line x1="567" y1="246.8" x2="567" y2="383.6" stroke="#ececec" stroke-width="0.7"/>
<line x1="582.8" y1="246.8" x2="582.8" y2="383.6" stroke="#ececec" stroke-width="0.7"/>
<line x1="598.6" y1="246.8" x2="598.6" y2="383.6" stroke="#ececec" stroke-width="0.7"/>
<line x1="614.4" y1="246.8" x2="614.4" y2="383.6" stroke="#ececec" stroke-width="0.7"/>
<line x1="630.2" y1="246.8" x2="630.2" y2="383.6" stroke="#ececec" stroke-width="0.7"/>
<line x1="646" y1="246.8" x2="646" y2="383.6" stroke="#ececec" stroke-width="0.7"/>
<line x1="661.8" y1="246.8" x2="661.8" y2="383.6" stroke="#ececec" stroke-width="0.7"/>
<line x1="519.6" y1="327" x2="677.6" y2="327" stroke="#ececec" stroke-width="0.7"/>
<line x1="519.6" y1="289.6" x2="677.6" y2="289.6" stroke="#ececec" stroke-width="0.7"/>
<line x1="519.6" y1="252.2" x2="677.6" y2="252.2" stroke="#ececec" stroke-width="0.7"/>
<path d="M519.6,265.85 L521.18,266.74 L522.76,267.66 L524.34,268.59 L525.92,269.54 L527.5,270.51 L529.08,271.5 L530.66,272.51 L532.24,273.54 L533.82,274.6 L535.4,275.68 L536.98,276.78 L538.56,277.91 L540.14,279.07 L541.72,280.25 L543.3,281.46 L544.88,282.7 L546.46,283.97 L548.04,285.27 L549.62,286.6 L551.2,287.96 L552.78,289.36 L554.36,290.8 L555.94,292.27 L557.52,293.78 L559.1,295.33 L560.68,296.93 L562.26,298.57 L563.84,300.25 L565.42,301.98 L567,303.76 L568.58,305.59 L570.16,307.48 L571.74,309.42 L573.32,311.42 L574.9,313.48 L576.48,315.6 L578.06,317.8 L579.64,320.06 L581.22,322.4 L582.8,324.82 L584.38,327.32 L585.96,329.9 L587.54,332.58 L589.12,335.35 L590.7,338.22 L592.28,341.2 L593.86,344.29 L595.44,347.5 L597.02,350.83 L598.6,354.3 L600.18,357.91 L601.76,361.67 L603.34,365.59 L604.92,369.68 L606.5,373.96 L608.08,378.43" stroke="#8c8c8c" stroke-width="1.0" fill="none"/>
<line x1="519.6" y1="364.4" x2="676.6" y2="364.4" stroke="#333" stroke-width="1.5" stroke-dasharray="3.4 2.2"/>
<path d="M519.5,265.8 L524,268.8 L528.6,271.9 L531.5,273.6 L534.4,274.9 L538.8,274.9 L541.5,276.2 L544.6,277 L548,278 L550.5,278.5 L553,278.5 L555.5,279.6 L559.2,280.7 L561.5,281.2 L563.6,282.2 L567,283.3 L570.9,285.1 L573.5,285.3 L576.8,286.5 L580,287.2 L582.6,289.5 L585.5,290 L588.4,290.9 L591.5,291.5 L595.3,292.9 L599,295 L603,296.7 L605.5,297.6 L608.4,297.5 L611.4,295.5 L614,296.6 L616.8,297 L618.5,298.6 L620.6,296.6 L622.5,298.9 L625.2,299.8 L627.2,301.2 L629,302.8 L630.5,301 L632.1,299.8 L634.5,300.8 L636.7,301.3 L639,302.3 L641.3,303.6 L643.6,305.2 L645.9,307.4 L647.5,310.8 L649,314.3 L650.5,315.5 L652,318.2 L653.6,320.2 L655.1,322.3 L657,326.5 L658.9,330.7 L660.5,329.2 L662,332.5 L663.5,336.1 L665,342 L666.6,351.4 L668.6,343 L670,348.5 L671.2,352.9 L672.2,359 L672.7,364.4 L673.5,371.3" stroke="#e6a630" stroke-width="1.35" fill="none" stroke-linejoin="round"/>
<rect x="519.6" y="246.8" width="158" height="136.8" stroke="#444" stroke-width="1.1" fill="none"/>
<line x1="519.6" y1="383.6" x2="519.6" y2="385.4" stroke="#444" stroke-width="0.7"/>
<line x1="535.4" y1="383.6" x2="535.4" y2="385.4" stroke="#444" stroke-width="0.7"/>
<line x1="551.2" y1="383.6" x2="551.2" y2="385.4" stroke="#444" stroke-width="0.7"/>
<line x1="567" y1="383.6" x2="567" y2="385.4" stroke="#444" stroke-width="0.7"/>
<line x1="582.8" y1="383.6" x2="582.8" y2="385.4" stroke="#444" stroke-width="0.7"/>
<line x1="598.6" y1="383.6" x2="598.6" y2="385.4" stroke="#444" stroke-width="0.7"/>
<line x1="614.4" y1="383.6" x2="614.4" y2="385.4" stroke="#444" stroke-width="0.7"/>
<line x1="630.2" y1="383.6" x2="630.2" y2="385.4" stroke="#444" stroke-width="0.7"/>
<line x1="646" y1="383.6" x2="646" y2="385.4" stroke="#444" stroke-width="0.7"/>
<line x1="661.8" y1="383.6" x2="661.8" y2="385.4" stroke="#444" stroke-width="0.7"/>
<line x1="677.6" y1="383.6" x2="677.6" y2="385.4" stroke="#444" stroke-width="0.7"/>
<text x="522.2" y="395.11" font-size="7.1" font-family="'Liberation Serif', serif" text-anchor="middle" fill="#333" stroke="#333" stroke-width="0.16">0.0</text>
<text x="551.2" y="395.11" font-size="7.1" font-family="'Liberation Serif', serif" text-anchor="middle" fill="#333" stroke="#333" stroke-width="0.16">0.2</text>
<text x="582.8" y="395.11" font-size="7.1" font-family="'Liberation Serif', serif" text-anchor="middle" fill="#333" stroke="#333" stroke-width="0.16">0.4</text>
<text x="614.4" y="395.11" font-size="7.1" font-family="'Liberation Serif', serif" text-anchor="middle" fill="#333" stroke="#333" stroke-width="0.16">0.6</text>
<text x="646" y="395.11" font-size="7.1" font-family="'Liberation Serif', serif" text-anchor="middle" fill="#333" stroke="#333" stroke-width="0.16">0.8</text>
<text x="677.6" y="395.11" font-size="7.1" font-family="'Liberation Serif', serif" text-anchor="middle" fill="#333" stroke="#333" stroke-width="0.16">1.0</text>
<line x1="519.6" y1="252.2" x2="518.2" y2="252.2" stroke="#444" stroke-width="0.6"/>
<text x="516.3" y="253.42" font-size="3.6" font-family="'Liberation Serif', serif" text-anchor="middle" fill="#444" stroke="#444" stroke-width="0.16">0.6</text>
<line x1="519.6" y1="289.6" x2="518.2" y2="289.6" stroke="#444" stroke-width="0.6"/>
<text x="516.3" y="290.82" font-size="3.6" font-family="'Liberation Serif', serif" text-anchor="middle" fill="#444" stroke="#444" stroke-width="0.16">0.4</text>
<line x1="519.6" y1="327" x2="518.2" y2="327" stroke="#444" stroke-width="0.6"/>
<text x="516.3" y="328.22" font-size="3.6" font-family="'Liberation Serif', serif" text-anchor="middle" fill="#444" stroke="#444" stroke-width="0.16">0.2</text>
<line x1="519.6" y1="364.4" x2="518.2" y2="364.4" stroke="#444" stroke-width="0.6"/>
<text x="516.3" y="365.62" font-size="3.6" font-family="'Liberation Serif', serif" text-anchor="middle" fill="#444" stroke="#444" stroke-width="0.16">0.0</text>
<text x="606.2" y="242.8" font-size="8.68" font-family="'Liberation Sans', sans-serif" text-anchor="middle" fill="#222" stroke="#222" stroke-width="0.1" xml:space="preserve">Decision Curve  Analysis</text>
<text x="511.32" y="323.5" font-size="9.0" font-family="'Liberation Sans', sans-serif" text-anchor="middle" fill="#222" stroke="#222" stroke-width="0.1" transform="rotate(-90 511.32 323.5)">Net Benefit</text>
<text x="607.4" y="406.55" font-size="8.7" font-family="'Liberation Sans', sans-serif" text-anchor="middle" fill="#222" stroke="#222" stroke-width="0.1">High Risk Threshold</text>
<line x1="589.2" y1="252" x2="608.4" y2="252" stroke="#e3a52a" stroke-width="1.3"/>
<line x1="589.2" y1="265.3" x2="608.4" y2="265.3" stroke="#9a9a9a" stroke-width="1.3"/>
<line x1="589.2" y1="276.8" x2="608.4" y2="276.8" stroke="#333" stroke-width="1.4" stroke-dasharray="2.6 1.6"/>
<text x="609.9" y="254.38" font-size="7.2" font-family="'Liberation Sans', sans-serif" text-anchor="start" fill="#222" stroke="#222" stroke-width="0.16" xml:space="preserve">Nomogram  model</text>
<text x="609.9" y="266.79" font-size="7.2" font-family="'Liberation Sans', sans-serif" text-anchor="start" fill="#222" stroke="#222" stroke-width="0.16">All</text>
<text x="609.9" y="279.09" font-size="7.2" font-family="'Liberation Sans', sans-serif" text-anchor="start" fill="#222" stroke="#222" stroke-width="0.16">None</text>
<line x1="41.5" y1="489.2" x2="41.5" y2="663.2" stroke="#222" stroke-width="1.0"/>
<line x1="41" y1="663" x2="304.2" y2="663" stroke="#222" stroke-width="1.0"/>
<line x1="38.6" y1="625.9" x2="41.5" y2="625.9" stroke="#222" stroke-width="0.8"/>
<text x="37.9" y="628.28" font-size="6.6" font-family="'Liberation Sans', sans-serif" text-anchor="end" fill="#444" stroke="#444" stroke-width="0.16">6</text>
<line x1="38.6" y1="584.7" x2="41.5" y2="584.7" stroke="#222" stroke-width="0.8"/>
<text x="37.9" y="587.08" font-size="6.6" font-family="'Liberation Sans', sans-serif" text-anchor="end" fill="#444" stroke="#444" stroke-width="0.16">8</text>
<line x1="38.6" y1="543.5" x2="41.5" y2="543.5" stroke="#222" stroke-width="0.8"/>
<text x="37.9" y="545.88" font-size="6.6" font-family="'Liberation Sans', sans-serif" text-anchor="end" fill="#444" stroke="#444" stroke-width="0.16">10</text>
<line x1="38.6" y1="502.3" x2="41.5" y2="502.3" stroke="#222" stroke-width="0.8"/>
<text x="37.9" y="504.68" font-size="6.6" font-family="'Liberation Sans', sans-serif" text-anchor="end" fill="#444" stroke="#444" stroke-width="0.16">12</text>
<text x="25.29" y="577.9" font-size="9.3" font-family="'Liberation Sans', sans-serif" text-anchor="middle" fill="#333" stroke="#333" stroke-width="0.1" transform="rotate(-90 25.29 577.9)">Gene expression</text>
<line x1="71.8" y1="663" x2="71.8" y2="665.3" stroke="#222" stroke-width="0.8"/>
<text x="71.8" y="673.06" font-size="8.5" font-family="'Liberation Sans', sans-serif" text-anchor="middle" fill="#333" stroke="#333" stroke-width="0.1">IL1RN</text>
<line x1="122.7" y1="663" x2="122.7" y2="665.3" stroke="#222" stroke-width="0.8"/>
<text x="122.7" y="673.06" font-size="8.5" font-family="'Liberation Sans', sans-serif" text-anchor="middle" fill="#333" stroke="#333" stroke-width="0.1">TLR2</text>
<line x1="173.6" y1="663" x2="173.6" y2="665.3" stroke="#222" stroke-width="0.8"/>
<text x="173.6" y="673.06" font-size="8.5" font-family="'Liberation Sans', sans-serif" text-anchor="middle" fill="#333" stroke="#333" stroke-width="0.1">NFKBIA</text>
<line x1="224.5" y1="663" x2="224.5" y2="665.3" stroke="#222" stroke-width="0.8"/>
<text x="224.5" y="673.06" font-size="8.5" font-family="'Liberation Sans', sans-serif" text-anchor="middle" fill="#333" stroke="#333" stroke-width="0.1">MMP9</text>
<line x1="275.4" y1="663" x2="275.4" y2="665.3" stroke="#222" stroke-width="0.8"/>
<text x="275.4" y="673.06" font-size="8.5" font-family="'Liberation Sans', sans-serif" text-anchor="middle" fill="#333" stroke="#333" stroke-width="0.1">ITLN1</text>
<text x="71.8" y="502.74" font-size="9.5" font-family="'Liberation Sans', sans-serif" text-anchor="middle" fill="#222" stroke="#222" stroke-width="0.1">***</text>
<text x="122.5" y="502.74" font-size="9.5" font-family="'Liberation Sans', sans-serif" text-anchor="middle" fill="#222" stroke="#222" stroke-width="0.1">***</text>
<text x="173.2" y="502.74" font-size="9.5" font-family="'Liberation Sans', sans-serif" text-anchor="middle" fill="#222" stroke="#222" stroke-width="0.1">*</text>
<text x="223.8" y="502.74" font-size="9.5" font-family="'Liberation Sans', sans-serif" text-anchor="middle" fill="#222" stroke="#222" stroke-width="0.1">**</text>
<line x1="61.9" y1="555.7" x2="61.9" y2="604.2" stroke="#e32626" stroke-width="0.85"/>
<path d="M61.89,555.7 L61.88,556.91 L61.86,558.12 L61.82,559.34 L61.75,560.55 L61.63,561.76 L61.44,562.98 L61.18,564.19 L60.83,565.4 L60.39,566.61 L59.86,567.83 L59.28,569.04 L58.67,570.25 L58.06,571.46 L57.5,572.68 L57.02,573.89 L56.63,575.1 L56.34,576.31 L56.15,577.53 L56.05,578.74 L56.01,579.95 L56,581.16 L56.01,582.38 L56.07,583.59 L56.22,584.8 L56.46,586.01 L56.82,587.23 L57.29,588.44 L57.85,589.65 L58.47,590.86 L59.11,592.08 L59.73,593.29 L60.3,594.5 L60.78,595.71 L61.16,596.93 L61.44,598.14 L61.63,599.35 L61.75,600.56 L61.82,601.78 L61.86,602.99 L61.88,604.2 L61.92,604.2 L61.94,602.99 L61.98,601.78 L62.05,600.56 L62.17,599.35 L62.36,598.14 L62.64,596.93 L63.02,595.71 L63.5,594.5 L64.07,593.29 L64.69,592.08 L65.33,590.86 L65.95,589.65 L66.51,588.44 L66.98,587.23 L67.34,586.01 L67.58,584.8 L67.73,583.59 L67.79,582.38 L67.8,581.16 L67.79,579.95 L67.75,578.74 L67.65,577.53 L67.46,576.31 L67.17,575.1 L66.78,573.89 L66.3,572.68 L65.74,571.46 L65.13,570.25 L64.52,569.04 L63.94,567.83 L63.41,566.61 L62.97,565.4 L62.62,564.19 L62.36,562.98 L62.17,561.76 L62.05,560.55 L61.98,559.34 L61.94,558.12 L61.92,556.91 L61.91,555.7 Z" stroke="#e32626" stroke-width="0.9" fill="none"/>
<path d="M61.9,565.25 L65.14,581 L61.9,596 L58.66,581 Z" stroke="#e32626" stroke-width="0.75" fill="none"/>
<rect x="59.4" y="577.7" width="5" height="7.4" stroke="#e32626" stroke-width="0.9" fill="#fff"/>
<line x1="59.4" y1="581.4" x2="64.4" y2="581.4" stroke="#e32626" stroke-width="1.0"/>
<circle cx="61.9" cy="558.5" r="1.85" stroke="none" stroke-width="1" fill="#e32626"/>
<circle cx="61.9" cy="561" r="1.85" stroke="none" stroke-width="1" fill="#e32626"/>
<circle cx="61.9" cy="563.5" r="1.85" stroke="none" stroke-width="1" fill="#e32626"/>
<circle cx="61.9" cy="566" r="1.85" stroke="none" stroke-width="1" fill="#e32626"/>
<circle cx="61.9" cy="597.7" r="1.85" stroke="none" stroke-width="1" fill="#e32626"/>
<line x1="82" y1="552.6" x2="82" y2="615" stroke="#2323c8" stroke-width="0.85"/>
<path d="M82,552.6 L82,554.16 L82,555.72 L82,557.28 L81.99,558.84 L81.99,560.4 L81.97,561.96 L81.94,563.52 L81.87,565.08 L81.77,566.64 L81.61,568.2 L81.37,569.76 L81.05,571.32 L80.64,572.88 L80.16,574.44 L79.63,576 L79.08,577.56 L78.55,579.12 L78.08,580.68 L77.69,582.24 L77.38,583.8 L77.18,585.36 L77.06,586.92 L77.01,588.48 L77,590.04 L77.01,591.6 L77.05,593.16 L77.16,594.72 L77.35,596.28 L77.64,597.84 L78.03,599.4 L78.51,600.96 L79.04,602.52 L79.6,604.08 L80.14,605.64 L80.63,607.2 L81.04,608.76 L81.37,610.32 L81.61,611.88 L81.78,613.44 L81.88,615 L82.12,615 L82.22,613.44 L82.39,611.88 L82.63,610.32 L82.96,608.76 L83.37,607.2 L83.86,605.64 L84.4,604.08 L84.96,602.52 L85.49,600.96 L85.97,599.4 L86.36,597.84 L86.65,596.28 L86.84,594.72 L86.95,593.16 L86.99,591.6 L87,590.04 L86.99,588.48 L86.94,586.92 L86.82,585.36 L86.62,583.8 L86.31,582.24 L85.92,580.68 L85.45,579.12 L84.92,577.56 L84.37,576 L83.84,574.44 L83.36,572.88 L82.95,571.32 L82.63,569.76 L82.39,568.2 L82.23,566.64 L82.13,565.08 L82.06,563.52 L82.03,561.96 L82.01,560.4 L82.01,558.84 L82,557.28 L82,555.72 L82,554.16 L82,552.6 Z" stroke="#2323c8" stroke-width="0.9" fill="none"/>
<path d="M82,572.05 L84.75,590.2 L82,608.05 L79.25,590.2 Z" stroke="#2323c8" stroke-width="0.75" fill="none"/>
<rect x="79.55" y="586.6" width="4.9" height="8.8" stroke="#2323c8" stroke-width="0.9" fill="#fff"/>
<line x1="79.55" y1="591" x2="84.45" y2="591" stroke="#2323c8" stroke-width="1.0"/>
<circle cx="82" cy="562.2" r="1.85" stroke="none" stroke-width="1" fill="#2323c8"/>
<line x1="112.5" y1="514" x2="112.5" y2="561.8" stroke="#e32626" stroke-width="0.85"/>
<path d="M112.48,514 L112.45,515.2 L112.41,516.39 L112.34,517.59 L112.22,518.78 L112.04,519.98 L111.8,521.17 L111.48,522.37 L111.08,523.56 L110.61,524.75 L110.09,525.95 L109.54,527.14 L109,528.34 L108.49,529.53 L108.04,530.73 L107.67,531.92 L107.38,533.12 L107.19,534.31 L107.07,535.51 L107.01,536.7 L107,537.9 L107,539.1 L107.03,540.29 L107.11,541.49 L107.26,542.68 L107.51,543.88 L107.84,545.07 L108.27,546.26 L108.77,547.46 L109.32,548.65 L109.89,549.85 L110.44,551.04 L110.94,552.24 L111.37,553.43 L111.73,554.63 L112,555.82 L112.19,557.02 L112.32,558.21 L112.4,559.41 L112.45,560.6 L112.48,561.8 L112.52,561.8 L112.55,560.6 L112.6,559.41 L112.68,558.21 L112.81,557.02 L113,555.82 L113.27,554.63 L113.63,553.43 L114.06,552.24 L114.56,551.04 L115.11,549.85 L115.68,548.65 L116.23,547.46 L116.73,546.26 L117.16,545.07 L117.49,543.88 L117.74,542.68 L117.89,541.49 L117.97,540.29 L118,539.1 L118,537.9 L117.99,536.7 L117.93,535.51 L117.81,534.31 L117.62,533.12 L117.33,531.92 L116.96,530.73 L116.51,529.53 L116,528.34 L115.46,527.14 L114.91,525.95 L114.39,524.75 L113.92,523.56 L113.52,522.37 L113.2,521.17 L112.96,519.98 L112.78,518.78 L112.66,517.59 L112.59,516.39 L112.55,515.2 L112.52,514 Z" stroke="#e32626" stroke-width="0.9" fill="none"/>
<path d="M112.5,523.08 L115.53,538.3 L112.5,553.08 L109.47,538.3 Z" stroke="#e32626" stroke-width="0.75" fill="none"/>
<rect x="110.3" y="535.9" width="4.4" height="8.1" stroke="#e32626" stroke-width="0.9" fill="#fff"/>
<line x1="110.3" y1="540" x2="114.7" y2="540" stroke="#e32626" stroke-width="1.0"/>
<line x1="132.7" y1="523.7" x2="132.7" y2="570.4" stroke="#2323c8" stroke-width="0.85"/>
<path d="M132.7,523.7 L132.7,524.87 L132.68,526.04 L132.66,527.2 L132.59,528.37 L132.45,529.54 L132.2,530.71 L131.8,531.87 L131.21,533.04 L130.46,534.21 L129.57,535.38 L128.65,536.54 L127.77,537.71 L127.02,538.88 L126.47,540.05 L126.12,541.21 L125.95,542.38 L125.9,543.55 L125.9,544.72 L125.92,545.88 L125.98,547.05 L126.1,548.22 L126.29,549.38 L126.56,550.55 L126.91,551.72 L127.34,552.89 L127.84,554.05 L128.4,555.22 L128.98,556.39 L129.58,557.56 L130.15,558.73 L130.68,559.89 L131.15,561.06 L131.55,562.23 L131.88,563.39 L132.14,564.56 L132.33,565.73 L132.47,566.9 L132.56,568.06 L132.62,569.23 L132.66,570.4 L132.74,570.4 L132.78,569.23 L132.84,568.06 L132.93,566.9 L133.07,565.73 L133.26,564.56 L133.52,563.39 L133.85,562.23 L134.25,561.06 L134.72,559.89 L135.25,558.73 L135.82,557.56 L136.42,556.39 L137,555.22 L137.56,554.05 L138.06,552.89 L138.49,551.72 L138.84,550.55 L139.11,549.38 L139.3,548.22 L139.42,547.05 L139.48,545.88 L139.5,544.72 L139.5,543.55 L139.45,542.38 L139.28,541.21 L138.93,540.05 L138.38,538.88 L137.63,537.71 L136.75,536.54 L135.83,535.38 L134.94,534.21 L134.19,533.04 L133.6,531.87 L133.2,530.71 L132.95,529.54 L132.81,528.37 L132.74,527.2 L132.72,526.04 L132.7,524.87 L132.7,523.7 Z" stroke="#2323c8" stroke-width="0.9" fill="none"/>
<path d="M132.7,533.5 L136.44,544 L132.7,560.5 L128.96,544 Z" stroke="#2323c8" stroke-width="0.75" fill="none"/>
<rect x="130.3" y="541.2" width="4.8" height="6" stroke="#2323c8" stroke-width="0.9" fill="#fff"/>
<line x1="130.3" y1="544.2" x2="135.1" y2="544.2" stroke="#2323c8" stroke-width="1.0"/>
<circle cx="132.7" cy="563.4" r="1.85" stroke="none" stroke-width="1" fill="#2323c8"/>
<line x1="163" y1="496.2" x2="163" y2="542.4" stroke="#e32626" stroke-width="0.85"/>
<path d="M162.99,496.2 L162.98,497.35 L162.95,498.51 L162.9,499.66 L162.82,500.82 L162.68,501.97 L162.47,503.13 L162.18,504.28 L161.79,505.44 L161.3,506.59 L160.72,507.75 L160.08,508.9 L159.41,510.06 L158.74,511.21 L158.12,512.37 L157.58,513.52 L157.14,514.68 L156.81,515.84 L156.59,516.99 L156.46,518.14 L156.41,519.3 L156.4,520.45 L156.41,521.61 L156.46,522.76 L156.57,523.92 L156.79,525.07 L157.11,526.23 L157.54,527.38 L158.07,528.54 L158.69,529.69 L159.35,530.85 L160.03,532 L160.67,533.16 L161.26,534.31 L161.75,535.47 L162.15,536.62 L162.45,537.78 L162.67,538.93 L162.81,540.09 L162.9,541.25 L162.95,542.4 L163.05,542.4 L163.1,541.25 L163.19,540.09 L163.33,538.93 L163.55,537.78 L163.85,536.62 L164.25,535.47 L164.74,534.31 L165.33,533.16 L165.97,532 L166.65,530.85 L167.31,529.69 L167.93,528.54 L168.46,527.38 L168.89,526.23 L169.21,525.07 L169.43,523.92 L169.54,522.76 L169.59,521.61 L169.6,520.45 L169.59,519.3 L169.54,518.14 L169.41,516.99 L169.19,515.84 L168.86,514.68 L168.42,513.52 L167.88,512.37 L167.26,511.21 L166.59,510.06 L165.92,508.9 L165.28,507.75 L164.7,506.59 L164.21,505.44 L163.82,504.28 L163.53,503.13 L163.32,501.97 L163.18,500.82 L163.1,499.66 L163.05,498.51 L163.02,497.35 L163.01,496.2 Z" stroke="#e32626" stroke-width="0.9" fill="none"/>
<path d="M163,506.62 L166.63,520.5 L163,534.38 L159.37,520.5 Z" stroke="#e32626" stroke-width="0.75" fill="none"/>
<rect x="160.6" y="517.3" width="4.8" height="8.1" stroke="#e32626" stroke-width="0.9" fill="#fff"/>
<line x1="160.6" y1="521.3" x2="165.4" y2="521.3" stroke="#e32626" stroke-width="1.0"/>
<circle cx="163" cy="503.5" r="1.85" stroke="none" stroke-width="1" fill="#e32626"/>
<line x1="183.3" y1="504.3" x2="183.3" y2="544" stroke="#2323c8" stroke-width="0.85"/>
<path d="M183.23,504.3 L183.18,505.29 L183.08,506.29 L182.93,507.28 L182.72,508.27 L182.43,509.26 L182.04,510.25 L181.57,511.25 L181.03,512.24 L180.42,513.23 L179.79,514.23 L179.17,515.22 L178.58,516.21 L178.06,517.2 L177.62,518.2 L177.28,519.19 L177.05,520.18 L176.9,521.17 L176.82,522.16 L176.8,523.16 L176.8,524.15 L176.82,525.14 L176.89,526.13 L177.04,527.13 L177.29,528.12 L177.64,529.11 L178.09,530.11 L178.63,531.1 L179.24,532.09 L179.88,533.08 L180.53,534.08 L181.14,535.07 L181.68,536.06 L182.14,537.05 L182.51,538.04 L182.79,539.04 L182.99,540.03 L183.12,541.02 L183.2,542.01 L183.25,543.01 L183.28,544 L183.32,544 L183.35,543.01 L183.4,542.01 L183.48,541.02 L183.61,540.03 L183.81,539.04 L184.09,538.04 L184.46,537.05 L184.92,536.06 L185.46,535.07 L186.07,534.08 L186.72,533.08 L187.36,532.09 L187.97,531.1 L188.51,530.11 L188.96,529.11 L189.31,528.12 L189.56,527.13 L189.71,526.13 L189.78,525.14 L189.8,524.15 L189.8,523.16 L189.78,522.16 L189.7,521.17 L189.55,520.18 L189.32,519.19 L188.98,518.2 L188.54,517.2 L188.02,516.21 L187.43,515.22 L186.81,514.23 L186.18,513.23 L185.57,512.24 L185.03,511.25 L184.56,510.25 L184.17,509.26 L183.88,508.27 L183.67,507.28 L183.52,506.29 L183.42,505.29 L183.37,504.3 Z" stroke="#2323c8" stroke-width="0.9" fill="none"/>
<path d="M183.3,511.18 L186.88,523.7 L183.3,535.92 L179.73,523.7 Z" stroke="#2323c8" stroke-width="0.75" fill="none"/>
<rect x="180.9" y="520.5" width="4.8" height="6.5" stroke="#2323c8" stroke-width="0.9" fill="#fff"/>
<line x1="180.9" y1="523.7" x2="185.7" y2="523.7" stroke="#2323c8" stroke-width="1.0"/>
<circle cx="183.3" cy="535.9" r="1.85" stroke="none" stroke-width="1" fill="#2323c8"/>
<line x1="213.5" y1="570.9" x2="213.5" y2="633.5" stroke="#e32626" stroke-width="0.85"/>
<path d="M213.5,570.9 L213.5,572.47 L213.5,574.03 L213.5,575.6 L213.5,577.16 L213.5,578.73 L213.5,580.29 L213.5,581.86 L213.5,583.42 L213.5,584.99 L213.5,586.55 L213.5,588.12 L213.5,589.68 L213.5,591.25 L213.5,592.81 L213.5,594.38 L213.5,595.94 L213.5,597.5 L213.5,599.07 L213.5,600.63 L213.5,602.2 L213.49,603.76 L213.45,605.33 L213.29,606.89 L212.81,608.46 L211.77,610.02 L210.09,611.59 L208.06,613.15 L206.24,614.72 L205.04,616.28 L204.56,617.85 L204.5,619.41 L204.61,620.98 L205.11,622.54 L206.13,624.11 L207.63,625.67 L209.36,627.24 L210.98,628.8 L212.2,630.37 L212.94,631.93 L213.31,633.5 L213.69,633.5 L214.06,631.93 L214.8,630.37 L216.02,628.8 L217.64,627.24 L219.37,625.67 L220.87,624.11 L221.89,622.54 L222.39,620.98 L222.5,619.41 L222.44,617.85 L221.96,616.28 L220.76,614.72 L218.94,613.15 L216.91,611.59 L215.23,610.02 L214.19,608.46 L213.71,606.89 L213.55,605.33 L213.51,603.76 L213.5,602.2 L213.5,600.63 L213.5,599.07 L213.5,597.5 L213.5,595.94 L213.5,594.38 L213.5,592.81 L213.5,591.25 L213.5,589.68 L213.5,588.12 L213.5,586.55 L213.5,584.99 L213.5,583.42 L213.5,581.86 L213.5,580.29 L213.5,578.73 L213.5,577.16 L213.5,575.6 L213.5,574.03 L213.5,572.47 L213.5,570.9 Z" stroke="#e32626" stroke-width="0.9" fill="none"/>
<path d="M213.5,611.3 L218.45,619.1 L213.5,628.25 L208.55,619.1 Z" stroke="#e32626" stroke-width="0.75" fill="none"/>
<rect x="211.1" y="615.4" width="4.8" height="5.9" stroke="#e32626" stroke-width="0.9" fill="#fff"/>
<line x1="211.1" y1="618.4" x2="215.9" y2="618.4" stroke="#e32626" stroke-width="1.0"/>
<circle cx="213.5" cy="575.9" r="1.85" stroke="none" stroke-width="1" fill="#e32626"/>
<circle cx="213.5" cy="582.6" r="1.85" stroke="none" stroke-width="1" fill="#e32626"/>
<circle cx="213.5" cy="586.8" r="1.85" stroke="none" stroke-width="1" fill="#e32626"/>
<circle cx="213.5" cy="596.9" r="1.85" stroke="none" stroke-width="1" fill="#e32626"/>
<circle cx="213.5" cy="603.3" r="1.85" stroke="none" stroke-width="1" fill="#e32626"/>
<line x1="234" y1="599.4" x2="234" y2="633" stroke="#2323c8" stroke-width="0.85"/>
<path d="M234,599.4 L234,600.24 L234,601.08 L234,601.92 L234,602.76 L233.99,603.6 L233.99,604.44 L233.97,605.28 L233.94,606.12 L233.89,606.96 L233.79,607.8 L233.65,608.64 L233.42,609.48 L233.1,610.32 L232.66,611.16 L232.09,612 L231.4,612.84 L230.59,613.68 L229.7,614.52 L228.77,615.36 L227.83,616.2 L226.94,617.04 L226.13,617.88 L225.45,618.72 L224.9,619.56 L224.5,620.4 L224.23,621.24 L224.08,622.08 L224.01,622.92 L224,623.76 L224.05,624.6 L224.34,625.44 L225.03,626.28 L226.18,627.12 L227.71,627.96 L229.39,628.8 L230.98,629.64 L232.25,630.48 L233.12,631.32 L233.62,632.16 L233.86,633 L234.14,633 L234.38,632.16 L234.88,631.32 L235.75,630.48 L237.02,629.64 L238.61,628.8 L240.29,627.96 L241.82,627.12 L242.97,626.28 L243.66,625.44 L243.95,624.6 L244,623.76 L243.99,622.92 L243.92,622.08 L243.77,621.24 L243.5,620.4 L243.1,619.56 L242.55,618.72 L241.87,617.88 L241.06,617.04 L240.17,616.2 L239.23,615.36 L238.3,614.52 L237.41,613.68 L236.6,612.84 L235.91,612 L235.34,611.16 L234.9,610.32 L234.58,609.48 L234.35,608.64 L234.21,607.8 L234.11,606.96 L234.06,606.12 L234.03,605.28 L234.01,604.44 L234.01,603.6 L234,602.76 L234,601.92 L234,601.08 L234,600.24 L234,599.4 Z" stroke="#2323c8" stroke-width="0.9" fill="none"/>
<path d="M234,613.67 L239.5,623.8 L234,629.42 L228.5,623.8 Z" stroke="#2323c8" stroke-width="0.75" fill="none"/>
<rect x="231.5" y="619" width="5" height="5.6" stroke="#2323c8" stroke-width="0.9" fill="#fff"/>
<line x1="231.5" y1="621.8" x2="236.5" y2="621.8" stroke="#2323c8" stroke-width="1.0"/>
<circle cx="234" cy="604.5" r="1.85" stroke="none" stroke-width="1" fill="#2323c8"/>
<circle cx="234" cy="607.8" r="1.85" stroke="none" stroke-width="1" fill="#2323c8"/>
<line x1="263.8" y1="626.3" x2="263.8" y2="655.3" stroke="#e32626" stroke-width="0.85"/>
<path d="M263.71,626.3 L263.62,627.02 L263.48,627.75 L263.25,628.47 L262.91,629.2 L262.43,629.92 L261.81,630.65 L261.04,631.38 L260.13,632.1 L259.14,632.82 L258.09,633.55 L257.06,634.27 L256.11,635 L255.27,635.72 L254.58,636.45 L254.07,637.17 L253.71,637.9 L253.51,638.62 L253.42,639.35 L253.4,640.07 L253.41,640.8 L253.51,641.52 L253.77,642.25 L254.24,642.97 L254.95,643.7 L255.88,644.42 L257,645.15 L258.22,645.88 L259.45,646.6 L260.6,647.32 L261.58,648.05 L262.36,648.77 L262.93,649.5 L263.31,650.22 L263.55,650.95 L263.68,651.67 L263.75,652.4 L263.78,653.12 L263.79,653.85 L263.8,654.57 L263.8,655.3 L263.8,655.3 L263.8,654.57 L263.81,653.85 L263.82,653.12 L263.85,652.4 L263.92,651.67 L264.05,650.95 L264.29,650.22 L264.67,649.5 L265.24,648.77 L266.02,648.05 L267,647.32 L268.15,646.6 L269.38,645.88 L270.6,645.15 L271.72,644.42 L272.65,643.7 L273.36,642.97 L273.83,642.25 L274.09,641.52 L274.19,640.8 L274.2,640.07 L274.18,639.35 L274.09,638.62 L273.89,637.9 L273.53,637.17 L273.02,636.45 L272.33,635.72 L271.49,635 L270.54,634.27 L269.51,633.55 L268.46,632.82 L267.47,632.1 L266.56,631.38 L265.79,630.65 L265.17,629.92 L264.69,629.2 L264.35,628.47 L264.12,627.75 L263.98,627.02 L263.89,626.3 Z" stroke="#e32626" stroke-width="0.9" fill="none"/>
<path d="M263.8,631.65 L269.52,640.2 L263.8,647.4 L258.08,640.2 Z" stroke="#e32626" stroke-width="0.75" fill="none"/>
<rect x="261.45" y="636.9" width="4.7" height="4.5" stroke="#e32626" stroke-width="0.9" fill="#fff"/>
<line x1="261.45" y1="639.2" x2="266.15" y2="639.2" stroke="#e32626" stroke-width="1.0"/>
<circle cx="263.8" cy="650.6" r="1.85" stroke="none" stroke-width="1" fill="#e32626"/>
<line x1="284.3" y1="628" x2="284.3" y2="649" stroke="#2323c8" stroke-width="0.85"/>
<path d="M284.28,628 L284.26,628.52 L284.22,629.05 L284.16,629.58 L284.05,630.1 L283.87,630.62 L283.61,631.15 L283.23,631.67 L282.71,632.2 L282.05,632.73 L281.23,633.25 L280.26,633.77 L279.18,634.3 L278.01,634.83 L276.82,635.35 L275.65,635.88 L274.56,636.4 L273.59,636.92 L272.78,637.45 L272.13,637.98 L271.66,638.5 L271.36,639.02 L271.18,639.55 L271.11,640.08 L271.1,640.6 L271.12,641.12 L271.23,641.65 L271.49,642.17 L271.95,642.7 L272.64,643.23 L273.57,643.75 L274.7,644.27 L275.99,644.8 L277.37,645.33 L278.74,645.85 L280.04,646.38 L281.18,646.9 L282.13,647.42 L282.87,647.95 L283.41,648.48 L283.78,649 L284.82,649 L285.19,648.48 L285.73,647.95 L286.47,647.42 L287.42,646.9 L288.56,646.38 L289.86,645.85 L291.23,645.33 L292.61,644.8 L293.9,644.27 L295.03,643.75 L295.96,643.23 L296.65,642.7 L297.11,642.17 L297.37,641.65 L297.48,641.12 L297.5,640.6 L297.49,640.08 L297.42,639.55 L297.24,639.02 L296.94,638.5 L296.47,637.98 L295.82,637.45 L295.01,636.92 L294.04,636.4 L292.95,635.88 L291.78,635.35 L290.59,634.83 L289.42,634.3 L288.34,633.77 L287.37,633.25 L286.55,632.73 L285.89,632.2 L285.37,631.67 L284.99,631.15 L284.73,630.62 L284.55,630.1 L284.44,629.58 L284.38,629.05 L284.34,628.52 L284.32,628 Z" stroke="#2323c8" stroke-width="0.9" fill="none"/>
<path d="M284.3,634.15 L291.56,640.6 L284.3,646.15 L277.04,640.6 Z" stroke="#2323c8" stroke-width="0.75" fill="none"/>
<rect x="281.95" y="638.6" width="4.7" height="3.6" stroke="#2323c8" stroke-width="0.9" fill="#fff"/>
<line x1="281.95" y1="640.4" x2="286.65" y2="640.4" stroke="#2323c8" stroke-width="1.0"/>
<circle cx="284.3" cy="628.8" r="1.85" stroke="none" stroke-width="1" fill="#2323c8"/>
<circle cx="284.3" cy="630.5" r="1.85" stroke="none" stroke-width="1" fill="#2323c8"/>
<circle cx="284.3" cy="632" r="1.85" stroke="none" stroke-width="1" fill="#2323c8"/>
<circle cx="284.3" cy="633.8" r="1.85" stroke="none" stroke-width="1" fill="#2323c8"/>
<text x="118.3" y="473.25" font-size="8.2" font-family="'Liberation Sans', sans-serif" text-anchor="start" fill="#222" stroke="#222" stroke-width="0.1" font-weight="bold">Type</text>
<rect x="143.5" y="464.2" width="14" height="11.6" stroke="#e32626" stroke-width="1.1" fill="#fff"/>
<rect x="145.5" y="466.4" width="10" height="7.2" stroke="#e32626" stroke-width="0.9" fill="#fff"/>
<line x1="145.5" y1="470" x2="155.5" y2="470" stroke="#e32626" stroke-width="1.0"/>
<line x1="150.5" y1="464.2" x2="150.5" y2="466.4" stroke="#e32626" stroke-width="0.8"/>
<line x1="150.5" y1="473.6" x2="150.5" y2="475.8" stroke="#e32626" stroke-width="0.8"/>
<rect x="182.8" y="464.2" width="14" height="11.6" stroke="#2323c8" stroke-width="1.1" fill="#fff"/>
<rect x="184.8" y="466.4" width="10" height="7.2" stroke="#2323c8" stroke-width="0.9" fill="#fff"/>
<line x1="184.8" y1="470" x2="194.8" y2="470" stroke="#2323c8" stroke-width="1.0"/>
<line x1="189.8" y1="464.2" x2="189.8" y2="466.4" stroke="#2323c8" stroke-width="0.8"/>
<line x1="189.8" y1="473.6" x2="189.8" y2="475.8" stroke="#2323c8" stroke-width="0.8"/>
<text x="160.3" y="472.66" font-size="7.4" font-family="'Liberation Sans', sans-serif" text-anchor="start" fill="#222" stroke="#222" stroke-width="0.16">AMI</text>
<text x="199" y="472.84" font-size="7.9" font-family="'Liberation Sans', sans-serif" text-anchor="start" fill="#222" stroke="#222" stroke-width="0.1">Control</text>
<line x1="429.3" y1="494.4" x2="429.3" y2="662" stroke="#111" stroke-width="1.4"/>
<line x1="428.6" y1="661.3" x2="650.6" y2="661.3" stroke="#111" stroke-width="1.4"/>
<line x1="427.2" y1="661.3" x2="429.3" y2="661.3" stroke="#111" stroke-width="0.9"/>
<text x="425.9" y="663.64" font-size="6.5" font-family="'Liberation Sans', sans-serif" text-anchor="end" fill="#444" stroke="#444" stroke-width="0.16">0</text>
<line x1="427.2" y1="605.7" x2="429.3" y2="605.7" stroke="#111" stroke-width="0.9"/>
<text x="425.9" y="608.04" font-size="6.5" font-family="'Liberation Sans', sans-serif" text-anchor="end" fill="#444" stroke="#444" stroke-width="0.16">5</text>
<line x1="427.2" y1="550.1" x2="429.3" y2="550.1" stroke="#111" stroke-width="0.9"/>
<text x="425.9" y="552.44" font-size="6.5" font-family="'Liberation Sans', sans-serif" text-anchor="end" fill="#444" stroke="#444" stroke-width="0.16">10</text>
<line x1="427.2" y1="494.5" x2="429.3" y2="494.5" stroke="#111" stroke-width="0.9"/>
<text x="425.9" y="496.84" font-size="6.5" font-family="'Liberation Sans', sans-serif" text-anchor="end" fill="#444" stroke="#444" stroke-width="0.16">15</text>
<text x="403.54" y="640.6" font-size="8.8" font-family="'Liberation Sans', sans-serif" text-anchor="start" fill="#333" stroke="#333" stroke-width="0.1" transform="rotate(-90 403.54 640.6)">Relative mRNA expression</text>
<text x="413.74" y="640.6" font-size="8.8" font-family="'Liberation Sans', sans-serif" text-anchor="start" fill="#333" stroke="#333" stroke-width="0.1" transform="rotate(-90 413.74 640.6)">normalized to GAPDH</text>
<rect x="435.6" y="649.85" width="10.8" height="11.45" stroke="#222" stroke-width="0.9" fill="#fff"/>
<circle cx="437.6" cy="650.15" r="1.15" stroke="#333" stroke-width="0.6" fill="#fff"/>
<circle cx="439.4" cy="650.75" r="1.15" stroke="#333" stroke-width="0.6" fill="#fff"/>
<circle cx="441.2" cy="650.15" r="1.15" stroke="#333" stroke-width="0.6" fill="#fff"/>
<circle cx="443" cy="650.75" r="1.15" stroke="#333" stroke-width="0.6" fill="#fff"/>
<circle cx="444.8" cy="650.15" r="1.15" stroke="#333" stroke-width="0.6" fill="#fff"/>
<rect x="452.2" y="624.27" width="10.8" height="37.03" stroke="#333" stroke-width="0.9" fill="#d4d4d4"/>
<line x1="457.6" y1="624.27" x2="457.6" y2="609.81" stroke="#222" stroke-width="1.1"/>
<line x1="454.5" y1="609.81" x2="460.7" y2="609.81" stroke="#222" stroke-width="1.1"/>
<circle cx="457.7" cy="605.2" r="1.65" stroke="#e05a5a" stroke-width="0.7" fill="none"/>
<circle cx="457.7" cy="614.3" r="1.65" stroke="#e05a5a" stroke-width="0.7" fill="none"/>
<circle cx="457.7" cy="627.4" r="1.65" stroke="#e05a5a" stroke-width="0.7" fill="none"/>
<circle cx="454.9" cy="635.7" r="1.65" stroke="#e05a5a" stroke-width="0.7" fill="none"/>
<circle cx="460.7" cy="637.9" r="1.65" stroke="#e05a5a" stroke-width="0.7" fill="none"/>
<line x1="449.3" y1="661.3" x2="449.3" y2="663.3" stroke="#111" stroke-width="0.8"/>
<text x="449.5" y="672.7" font-size="8.6" font-family="'Liberation Sans', sans-serif" text-anchor="middle" fill="#333" stroke="#333" stroke-width="0.1">IL1RN</text>
<rect x="480.6" y="649.96" width="10.8" height="11.34" stroke="#222" stroke-width="0.9" fill="#fff"/>
<circle cx="482.6" cy="650.26" r="1.15" stroke="#333" stroke-width="0.6" fill="#fff"/>
<circle cx="484.4" cy="650.86" r="1.15" stroke="#333" stroke-width="0.6" fill="#fff"/>
<circle cx="486.2" cy="650.26" r="1.15" stroke="#333" stroke-width="0.6" fill="#fff"/>
<circle cx="488" cy="650.86" r="1.15" stroke="#333" stroke-width="0.6" fill="#fff"/>
<circle cx="489.8" cy="650.26" r="1.15" stroke="#333" stroke-width="0.6" fill="#fff"/>
<rect x="497.2" y="607.26" width="10.8" height="54.04" stroke="#333" stroke-width="0.9" fill="#d4d4d4"/>
<line x1="502.6" y1="607.26" x2="502.6" y2="589.8" stroke="#222" stroke-width="1.1"/>
<line x1="499.5" y1="589.8" x2="505.7" y2="589.8" stroke="#222" stroke-width="1.1"/>
<circle cx="502.9" cy="582.7" r="1.65" stroke="#e05a5a" stroke-width="0.7" fill="none"/>
<circle cx="499.8" cy="603.1" r="1.65" stroke="#e05a5a" stroke-width="0.7" fill="none"/>
<circle cx="506.2" cy="604" r="1.65" stroke="#e05a5a" stroke-width="0.7" fill="none"/>
<circle cx="502.9" cy="615" r="1.65" stroke="#e05a5a" stroke-width="0.7" fill="none"/>
<circle cx="502.9" cy="629.5" r="1.65" stroke="#e05a5a" stroke-width="0.7" fill="none"/>
<line x1="494.3" y1="661.3" x2="494.3" y2="663.3" stroke="#111" stroke-width="0.8"/>
<text x="494.5" y="672.7" font-size="8.6" font-family="'Liberation Sans', sans-serif" text-anchor="middle" fill="#333" stroke="#333" stroke-width="0.1">TLR2</text>
<rect x="525.6" y="650.29" width="10.8" height="11.01" stroke="#222" stroke-width="0.9" fill="#fff"/>
<circle cx="527.6" cy="650.59" r="1.15" stroke="#333" stroke-width="0.6" fill="#fff"/>
<circle cx="529.4" cy="651.19" r="1.15" stroke="#333" stroke-width="0.6" fill="#fff"/>
<circle cx="531.2" cy="650.59" r="1.15" stroke="#333" stroke-width="0.6" fill="#fff"/>
<circle cx="533" cy="651.19" r="1.15" stroke="#333" stroke-width="0.6" fill="#fff"/>
<circle cx="534.8" cy="650.59" r="1.15" stroke="#333" stroke-width="0.6" fill="#fff"/>
<rect x="542.2" y="610.7" width="10.8" height="50.6" stroke="#333" stroke-width="0.9" fill="#d4d4d4"/>
<line x1="547.6" y1="610.7" x2="547.6" y2="577.34" stroke="#222" stroke-width="1.1"/>
<line x1="544.5" y1="577.34" x2="550.7" y2="577.34" stroke="#222" stroke-width="1.1"/>
<circle cx="547.9" cy="553.7" r="1.65" stroke="#e05a5a" stroke-width="0.7" fill="none"/>
<circle cx="547.9" cy="609.5" r="1.65" stroke="#e05a5a" stroke-width="0.7" fill="none"/>
<circle cx="547.9" cy="615" r="1.65" stroke="#e05a5a" stroke-width="0.7" fill="none"/>
<circle cx="544.8" cy="634.9" r="1.65" stroke="#e05a5a" stroke-width="0.7" fill="none"/>
<circle cx="550.7" cy="639.3" r="1.65" stroke="#e05a5a" stroke-width="0.7" fill="none"/>
<line x1="539.3" y1="661.3" x2="539.3" y2="663.3" stroke="#111" stroke-width="0.8"/>
<text x="539.5" y="672.7" font-size="8.6" font-family="'Liberation Sans', sans-serif" text-anchor="middle" fill="#333" stroke="#333" stroke-width="0.1">NFKBIA</text>
<rect x="570.6" y="649.62" width="10.8" height="11.68" stroke="#222" stroke-width="0.9" fill="#fff"/>
<circle cx="572.6" cy="649.92" r="1.15" stroke="#333" stroke-width="0.6" fill="#fff"/>
<circle cx="574.4" cy="650.52" r="1.15" stroke="#333" stroke-width="0.6" fill="#fff"/>
<circle cx="576.2" cy="649.92" r="1.15" stroke="#333" stroke-width="0.6" fill="#fff"/>
<circle cx="578" cy="650.52" r="1.15" stroke="#333" stroke-width="0.6" fill="#fff"/>
<circle cx="579.8" cy="649.92" r="1.15" stroke="#333" stroke-width="0.6" fill="#fff"/>
<rect x="587.2" y="616.04" width="10.8" height="45.26" stroke="#333" stroke-width="0.9" fill="#d4d4d4"/>
<line x1="592.6" y1="616.04" x2="592.6" y2="595.69" stroke="#222" stroke-width="1.1"/>
<line x1="589.5" y1="595.69" x2="595.7" y2="595.69" stroke="#222" stroke-width="1.1"/>
<circle cx="593.1" cy="594.8" r="1.65" stroke="#e05a5a" stroke-width="0.7" fill="none"/>
<circle cx="593.1" cy="603.1" r="1.65" stroke="#e05a5a" stroke-width="0.7" fill="none"/>
<circle cx="590.7" cy="615.6" r="1.65" stroke="#e05a5a" stroke-width="0.7" fill="none"/>
<circle cx="596.4" cy="617.8" r="1.65" stroke="#e05a5a" stroke-width="0.7" fill="none"/>
<circle cx="593.1" cy="644.6" r="1.65" stroke="#e05a5a" stroke-width="0.7" fill="none"/>
<line x1="584.3" y1="661.3" x2="584.3" y2="663.3" stroke="#111" stroke-width="0.8"/>
<text x="584.5" y="672.7" font-size="8.6" font-family="'Liberation Sans', sans-serif" text-anchor="middle" fill="#333" stroke="#333" stroke-width="0.1">MMP9</text>
<rect x="615.6" y="650.18" width="10.8" height="11.12" stroke="#222" stroke-width="0.9" fill="#fff"/>
<circle cx="617.6" cy="650.48" r="1.15" stroke="#333" stroke-width="0.6" fill="#fff"/>
<circle cx="619.4" cy="651.08" r="1.15" stroke="#333" stroke-width="0.6" fill="#fff"/>
<circle cx="621.2" cy="650.48" r="1.15" stroke="#333" stroke-width="0.6" fill="#fff"/>
<circle cx="623" cy="651.08" r="1.15" stroke="#333" stroke-width="0.6" fill="#fff"/>
<circle cx="624.8" cy="650.48" r="1.15" stroke="#333" stroke-width="0.6" fill="#fff"/>
<rect x="632.2" y="607.92" width="10.8" height="53.38" stroke="#333" stroke-width="0.9" fill="#d4d4d4"/>
<line x1="637.6" y1="607.92" x2="637.6" y2="590.69" stroke="#222" stroke-width="1.1"/>
<line x1="634.5" y1="590.69" x2="640.7" y2="590.69" stroke="#222" stroke-width="1.1"/>
<circle cx="638.5" cy="588.2" r="1.65" stroke="#e05a5a" stroke-width="0.7" fill="none"/>
<circle cx="638.5" cy="597.6" r="1.65" stroke="#e05a5a" stroke-width="0.7" fill="none"/>
<circle cx="635.7" cy="608.6" r="1.65" stroke="#e05a5a" stroke-width="0.7" fill="none"/>
<circle cx="641.4" cy="610.1" r="1.65" stroke="#e05a5a" stroke-width="0.7" fill="none"/>
<circle cx="638.5" cy="633.6" r="1.65" stroke="#e05a5a" stroke-width="0.7" fill="none"/>
<line x1="629.3" y1="661.3" x2="629.3" y2="663.3" stroke="#111" stroke-width="0.8"/>
<text x="629.5" y="672.7" font-size="8.6" font-family="'Liberation Sans', sans-serif" text-anchor="middle" fill="#333" stroke="#333" stroke-width="0.1">ITLN1</text>
<text x="451" y="593.91" font-size="7.3" font-family="'Liberation Serif', serif" text-anchor="middle" fill="#333" stroke="#333" stroke-width="0.16" font-style="italic">P=1.57e-2</text>
<line x1="437.9" y1="596.4" x2="459.8" y2="596.4" stroke="#555" stroke-width="0.8"/>
<text x="494.3" y="572.41" font-size="7.3" font-family="'Liberation Serif', serif" text-anchor="middle" fill="#333" stroke="#333" stroke-width="0.16" font-style="italic">P=4.96e-3</text>
<line x1="483.3" y1="575.7" x2="504.2" y2="575.7" stroke="#555" stroke-width="0.8"/>
<text x="540.4" y="546.01" font-size="7.3" font-family="'Liberation Serif', serif" text-anchor="middle" fill="#333" stroke="#333" stroke-width="0.16" font-style="italic">P=3.26e-2</text>
<line x1="528.3" y1="548.2" x2="549.6" y2="548.2" stroke="#555" stroke-width="0.8"/>
<text x="584.8" y="584.41" font-size="7.3" font-family="'Liberation Serif', serif" text-anchor="middle" fill="#333" stroke="#333" stroke-width="0.16" font-style="italic">P=1.52e-2</text>
<line x1="573.8" y1="587.5" x2="594.6" y2="587.5" stroke="#555" stroke-width="0.8"/>
<text x="629.1" y="578.11" font-size="7.3" font-family="'Liberation Serif', serif" text-anchor="middle" fill="#333" stroke="#333" stroke-width="0.16" font-style="italic">P=4.94e-3</text>
<line x1="619.4" y1="582" x2="640.7" y2="582" stroke="#555" stroke-width="0.8"/>
<circle cx="471.4" cy="470.8" r="1.4" stroke="#333" stroke-width="0.6" fill="#fff"/>
<text x="477" y="472.68" font-size="8.0" font-family="'Liberation Sans', sans-serif" text-anchor="start" fill="#222" stroke="#222" stroke-width="0.1">Control</text>
<circle cx="540.9" cy="470.8" r="1.5" stroke="#e05a5a" stroke-width="0.7" fill="#fff"/>
<text x="547.1" y="472.68" font-size="8.0" font-family="'Liberation Sans', sans-serif" text-anchor="start" fill="#222" stroke="#222" stroke-width="0.1">AMI</text>
</svg>
</body></html>
